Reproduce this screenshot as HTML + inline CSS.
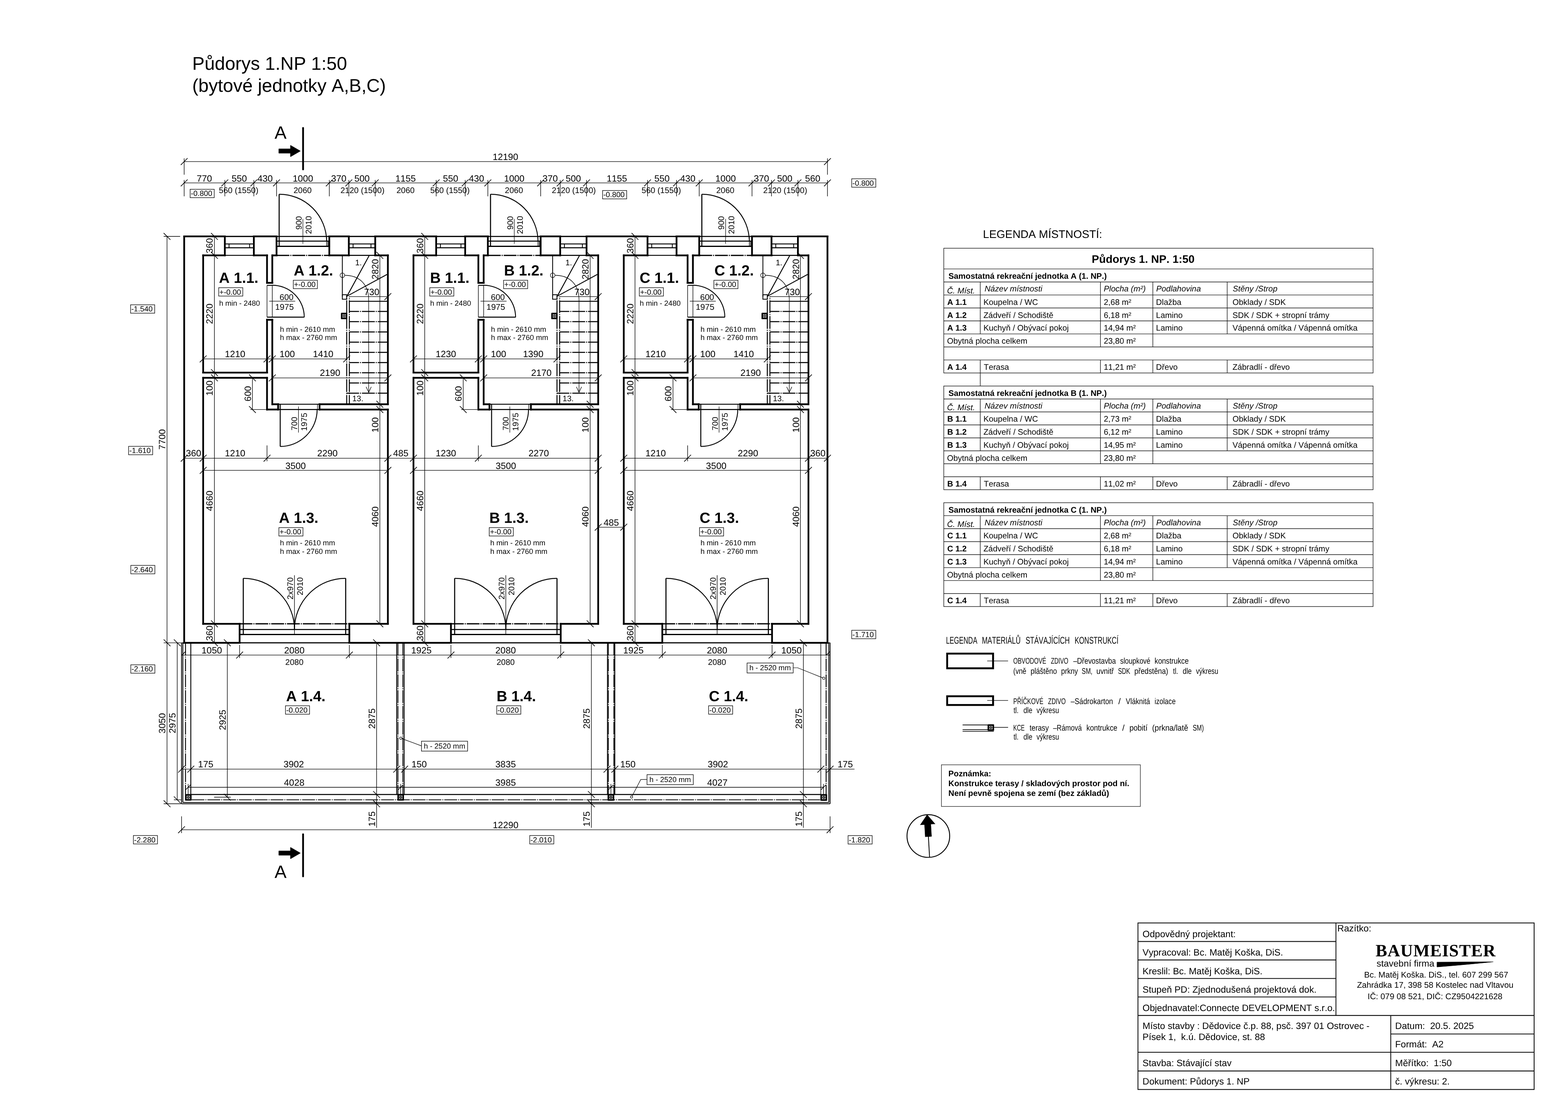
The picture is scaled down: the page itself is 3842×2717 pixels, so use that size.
<!DOCTYPE html>
<html lang="cs"><head><meta charset="utf-8"><title>Půdorys 1.NP 1:50</title>
<style>
html,body{margin:0;padding:0;background:#fff}
body{width:3842px;height:2717px}
svg{display:block;will-change:transform;font-family:"Liberation Sans",sans-serif;fill:#000;stroke:none;font-kerning:none;text-rendering:geometricPrecision;font-variant-ligatures:none}
svg line,svg polyline,svg polygon,svg path,svg rect,svg circle{stroke:#000}
.b{font-weight:bold}
.i{font-style:italic}
.ser{font-family:"Liberation Serif",serif}
.cad{font-family:"Liberation Sans",sans-serif}
</style></head>
<body>
<svg width="3842" height="2717" viewBox="0 0 3842 2717">
<line x1="451.3" y1="579.2" x2="451.3" y2="1574.8" stroke-width="4.3" stroke-linecap="square"/>
<line x1="2027.5" y1="579.2" x2="2027.5" y2="1574.8" stroke-width="4.3" stroke-linecap="square"/>
<line x1="451.3" y1="579.2" x2="550.9" y2="579.2" stroke-width="4.3" stroke-linecap="square"/>
<line x1="622" y1="579.2" x2="677.6" y2="579.2" stroke-width="4.3" stroke-linecap="square"/>
<line x1="806.9" y1="579.2" x2="854.7" y2="579.2" stroke-width="4.3" stroke-linecap="square"/>
<line x1="919.4" y1="579.2" x2="1068.7" y2="579.2" stroke-width="4.3" stroke-linecap="square"/>
<line x1="1139.8" y1="579.2" x2="1195.4" y2="579.2" stroke-width="4.3" stroke-linecap="square"/>
<line x1="1324.7" y1="579.2" x2="1372.6" y2="579.2" stroke-width="4.3" stroke-linecap="square"/>
<line x1="1437.2" y1="579.2" x2="1586.6" y2="579.2" stroke-width="4.3" stroke-linecap="square"/>
<line x1="1657.7" y1="579.2" x2="1713.3" y2="579.2" stroke-width="4.3" stroke-linecap="square"/>
<line x1="1842.6" y1="579.2" x2="1890.4" y2="579.2" stroke-width="4.3" stroke-linecap="square"/>
<line x1="1955.1" y1="579.2" x2="2027.5" y2="579.2" stroke-width="4.3" stroke-linecap="square"/>
<line x1="451.3" y1="1574.8" x2="587.1" y2="1574.8" stroke-width="4.3" stroke-linecap="square"/>
<line x1="856" y1="1574.8" x2="1104.9" y2="1574.8" stroke-width="4.3" stroke-linecap="square"/>
<line x1="1373.9" y1="1574.8" x2="1622.8" y2="1574.8" stroke-width="4.3" stroke-linecap="square"/>
<line x1="1891.7" y1="1574.8" x2="2027.5" y2="1574.8" stroke-width="4.3" stroke-linecap="square"/>
<line x1="550.9" y1="579.2" x2="550.9" y2="625.7" stroke-width="4.3" stroke-linecap="square"/>
<line x1="622" y1="579.2" x2="622" y2="625.7" stroke-width="4.3" stroke-linecap="square"/>
<line x1="677.6" y1="579.2" x2="677.6" y2="625.7" stroke-width="4.3" stroke-linecap="square"/>
<line x1="806.9" y1="579.2" x2="806.9" y2="625.7" stroke-width="4.3" stroke-linecap="square"/>
<line x1="854.7" y1="579.2" x2="854.7" y2="625.7" stroke-width="4.3" stroke-linecap="square"/>
<line x1="919.4" y1="579.2" x2="919.4" y2="625.7" stroke-width="4.3" stroke-linecap="square"/>
<line x1="497.8" y1="625.7" x2="550.9" y2="625.7" stroke-width="4.3" stroke-linecap="square"/>
<line x1="622" y1="625.7" x2="654.3" y2="625.7" stroke-width="4.3" stroke-linecap="square"/>
<line x1="667.2" y1="625.7" x2="677.6" y2="625.7" stroke-width="4.3" stroke-linecap="square"/>
<line x1="806.9" y1="625.7" x2="854.7" y2="625.7" stroke-width="4.3" stroke-linecap="square"/>
<line x1="919.4" y1="625.7" x2="950.4" y2="625.7" stroke-width="4.3" stroke-linecap="square"/>
<line x1="497.8" y1="625.7" x2="497.8" y2="912.8" stroke-width="4.3" stroke-linecap="square"/>
<line x1="497.8" y1="912.8" x2="654.3" y2="912.8" stroke-width="4.3" stroke-linecap="square"/>
<line x1="654.3" y1="625.7" x2="654.3" y2="693" stroke-width="4.3" stroke-linecap="square"/>
<line x1="654.3" y1="783.5" x2="654.3" y2="912.8" stroke-width="4.3" stroke-linecap="square"/>
<line x1="654.3" y1="693" x2="667.2" y2="693" stroke-width="4.3" stroke-linecap="square"/>
<line x1="654.3" y1="783.5" x2="667.2" y2="783.5" stroke-width="4.3" stroke-linecap="square"/>
<line x1="667.2" y1="625.7" x2="667.2" y2="693" stroke-width="4.3" stroke-linecap="square"/>
<line x1="667.2" y1="783.5" x2="667.2" y2="990.4" stroke-width="4.3" stroke-linecap="square"/>
<line x1="667.2" y1="990.4" x2="681.5" y2="990.4" stroke-width="4.3" stroke-linecap="square"/>
<line x1="783" y1="990.4" x2="950.4" y2="990.4" stroke-width="4.3" stroke-linecap="square"/>
<line x1="950.4" y1="625.7" x2="950.4" y2="990.4" stroke-width="4.3" stroke-linecap="square"/>
<line x1="681.5" y1="990.4" x2="681.5" y2="1003.3" stroke-width="4.3" stroke-linecap="square"/>
<line x1="783" y1="990.4" x2="783" y2="1003.3" stroke-width="4.3" stroke-linecap="square"/>
<line x1="497.8" y1="925.7" x2="654.3" y2="925.7" stroke-width="4.3" stroke-linecap="square"/>
<line x1="654.3" y1="925.7" x2="654.3" y2="1003.3" stroke-width="4.3" stroke-linecap="square"/>
<line x1="654.3" y1="1003.3" x2="681.5" y2="1003.3" stroke-width="4.3" stroke-linecap="square"/>
<line x1="783" y1="1003.3" x2="950.4" y2="1003.3" stroke-width="4.3" stroke-linecap="square"/>
<line x1="950.4" y1="1003.3" x2="950.4" y2="1528.3" stroke-width="4.3" stroke-linecap="square"/>
<line x1="497.8" y1="925.7" x2="497.8" y2="1528.3" stroke-width="4.3" stroke-linecap="square"/>
<line x1="497.8" y1="1528.3" x2="587.1" y2="1528.3" stroke-width="4.3" stroke-linecap="square"/>
<line x1="856" y1="1528.3" x2="950.4" y2="1528.3" stroke-width="4.3" stroke-linecap="square"/>
<line x1="587.1" y1="1528.3" x2="587.1" y2="1574.8" stroke-width="4.3" stroke-linecap="square"/>
<line x1="856" y1="1528.3" x2="856" y2="1574.8" stroke-width="4.3" stroke-linecap="square"/>
<line x1="550.9" y1="579.2" x2="622" y2="579.2" stroke-width="3"/>
<line x1="550.9" y1="625.7" x2="622" y2="625.7" stroke-width="2.2"/>
<line x1="550.9" y1="597.6" x2="622" y2="597.6" stroke-width="2.4"/>
<line x1="550.9" y1="607" x2="622" y2="607" stroke-width="2.4"/>
<line x1="561.2" y1="597.6" x2="561.2" y2="607" stroke-width="2"/>
<line x1="611.6" y1="597.6" x2="611.6" y2="607" stroke-width="2"/>
<line x1="854.7" y1="579.2" x2="919.4" y2="579.2" stroke-width="3"/>
<line x1="854.7" y1="625.7" x2="919.4" y2="625.7" stroke-width="2.2"/>
<line x1="854.7" y1="597.6" x2="919.4" y2="597.6" stroke-width="2.4"/>
<line x1="854.7" y1="607" x2="919.4" y2="607" stroke-width="2.4"/>
<line x1="865.1" y1="597.6" x2="865.1" y2="607" stroke-width="2"/>
<line x1="909" y1="597.6" x2="909" y2="607" stroke-width="2"/>
<line x1="677.6" y1="579.2" x2="806.9" y2="579.2" stroke-width="2.6"/>
<line x1="677.6" y1="590.8" x2="806.9" y2="590.8" stroke-width="2.4"/>
<line x1="677.6" y1="603.5" x2="806.9" y2="603.5" stroke-width="2.8"/>
<line x1="677.6" y1="625.7" x2="806.9" y2="625.7" stroke-width="3" stroke-dasharray="31.5 2.4 2.4 2.4"/>
<line x1="684" y1="475.8" x2="684" y2="603.5" stroke-width="2.6"/>
<line x1="800.4" y1="579.2" x2="800.4" y2="603.5" stroke-width="1.6"/>
<line x1="803.6" y1="590.8" x2="803.6" y2="603.5" stroke-width="1.6"/>
<path d="M684 475.8A116.4 116.4 0 0 1 800.4 590.8" stroke-width="2.2" fill="none"/>
<line x1="742.2" y1="536.5" x2="742.2" y2="597.3" stroke-width="1.2"/>
<text x="738.6" y="546" font-size="20" text-anchor="middle" transform="rotate(-90 738.6 546)">900</text>
<text x="762.8" y="551" font-size="20" text-anchor="middle" transform="rotate(-90 762.8 551)">2010</text>
<line x1="587.1" y1="1574.8" x2="856" y2="1574.8" stroke-width="2.8"/>
<line x1="587.1" y1="1528.3" x2="856" y2="1528.3" stroke-width="3" stroke-dasharray="31.5 2.4 2.4 2.4"/>
<line x1="587.1" y1="1542.2" x2="856" y2="1542.2" stroke-width="2.4"/>
<line x1="587.1" y1="1554.5" x2="856" y2="1554.5" stroke-width="2.8"/>
<line x1="596.1" y1="1416.8" x2="596.1" y2="1554.5" stroke-width="2.6"/>
<line x1="847" y1="1416.8" x2="847" y2="1554.5" stroke-width="2.6"/>
<path d="M596.1 1416.8A125.4 125.4 0 0 1 721.5 1542.2" stroke-width="2.2" fill="none"/>
<path d="M847 1416.8A125.4 125.4 0 0 0 721.5 1542.2" stroke-width="2.2" fill="none"/>
<line x1="721.5" y1="1409.3" x2="721.5" y2="1554.5" stroke-width="1.35"/>
<text x="718.1" y="1441.6" font-size="20" text-anchor="middle" transform="rotate(-90 718.1 1441.6)">2x970</text>
<text x="742.1" y="1436.3" font-size="20" text-anchor="middle" transform="rotate(-90 742.1 1436.3)">2010</text>
<line x1="654.3" y1="699.1" x2="667.2" y2="699.1" stroke-width="2.2"/>
<line x1="654.3" y1="699.1" x2="654.3" y2="777" stroke-width="1.35"/>
<line x1="667.2" y1="699.1" x2="667.2" y2="777" stroke-width="1.35"/>
<line x1="654.3" y1="777" x2="745.7" y2="777" stroke-width="2.6"/>
<path d="M745.5 777A78.2 78.2 0 0 0 667.2 698.8" stroke-width="2.2" fill="none"/>
<line x1="659.6" y1="737.9" x2="723.4" y2="737.9" stroke-width="1.2"/>
<text x="702.1" y="734.6" font-size="20.5" text-anchor="middle">600</text>
<text x="697" y="758.6" font-size="20.5" text-anchor="middle">1975</text>
<line x1="681.5" y1="990.4" x2="783" y2="990.4" stroke-width="2.4"/>
<line x1="681.5" y1="1003.3" x2="783" y2="1003.3" stroke-width="2.6"/>
<line x1="686.6" y1="990.4" x2="686.6" y2="1093.8" stroke-width="2.4"/>
<line x1="777.8" y1="990.4" x2="777.8" y2="1003.3" stroke-width="1.35"/>
<path d="M686.6 1093.8A90.5 90.5 0 0 0 777.1 1003.3" stroke-width="2.2" fill="none"/>
<line x1="731.4" y1="996" x2="731.4" y2="1059.8" stroke-width="1.2"/>
<text x="728.2" y="1037.8" font-size="20" text-anchor="middle" transform="rotate(-90 728.2 1037.8)">700</text>
<text x="752.2" y="1033.6" font-size="20" text-anchor="middle" transform="rotate(-90 752.2 1033.6)">1975</text>
<line x1="849.5" y1="725.6" x2="849.5" y2="990.4" stroke-width="2.4" stroke-dasharray="31.5 2.4 2.4 2.4" stroke-dashoffset="28.8"/>
<line x1="856" y1="726.6" x2="856" y2="990.4" stroke-width="2.4" stroke-dasharray="31.5 2.4 2.4 2.4" stroke-dashoffset="29.8"/>
<line x1="838.8" y1="625.7" x2="838.8" y2="726.6" stroke-width="2"/>
<line x1="838.8" y1="625.7" x2="919.4" y2="625.7" stroke-width="2"/>
<rect x="838.8" y="722.1" width="10.7" height="11" stroke-width="2" fill="none"/>
<line x1="850.2" y1="725.6" x2="904.5" y2="626.3" stroke-width="2.2"/>
<line x1="850.2" y1="725.6" x2="948.5" y2="672.3" stroke-width="2.2"/>
<line x1="856" y1="726.6" x2="950.4" y2="726.6" stroke-width="1.35"/>
<line x1="856" y1="738.1" x2="950.4" y2="738.1" stroke-width="2.4"/>
<line x1="856" y1="763.1" x2="950.4" y2="763.1" stroke-width="2.5" stroke-dasharray="31.5 2.4 2.4 2.4" stroke-dashoffset="7.8"/>
<line x1="856" y1="788.1" x2="950.4" y2="788.1" stroke-width="2.5" stroke-dasharray="31.5 2.4 2.4 2.4" stroke-dashoffset="7.8"/>
<line x1="856" y1="813.2" x2="950.4" y2="813.2" stroke-width="2.5" stroke-dasharray="31.5 2.4 2.4 2.4" stroke-dashoffset="7.8"/>
<line x1="856" y1="838.2" x2="950.4" y2="838.2" stroke-width="2.5" stroke-dasharray="31.5 2.4 2.4 2.4" stroke-dashoffset="7.8"/>
<line x1="856" y1="863.2" x2="950.4" y2="863.2" stroke-width="2.5" stroke-dasharray="31.5 2.4 2.4 2.4" stroke-dashoffset="7.8"/>
<line x1="856" y1="888.2" x2="950.4" y2="888.2" stroke-width="2.5" stroke-dasharray="31.5 2.4 2.4 2.4" stroke-dashoffset="7.8"/>
<line x1="856" y1="913.2" x2="950.4" y2="913.2" stroke-width="2.5" stroke-dasharray="31.5 2.4 2.4 2.4" stroke-dashoffset="7.8"/>
<line x1="856" y1="938.3" x2="950.4" y2="938.3" stroke-width="2.5" stroke-dasharray="31.5 2.4 2.4 2.4" stroke-dashoffset="7.8"/>
<line x1="849.5" y1="963.3" x2="950.4" y2="963.3" stroke-width="2.5" stroke-dasharray="31.5 2.4 2.4 2.4" stroke-dashoffset="1.3"/>
<circle cx="838.9" cy="674.5" r="5.6" fill="none" stroke-width="1.2"/>
<path d="M844.5 674.5C878.9 674.5 903.4 695 903.4 735L903.4 961" stroke-width="1.3" fill="none"/>
<path d="M897.1 947.8L903.4 961.4L909.7 947.8" stroke-width="1.3" fill="none"/>
<text x="878.3" y="650" font-size="19.5" text-anchor="middle">1.</text>
<text x="876.8" y="983" font-size="19.5" text-anchor="middle">13.</text>
<text x="910.7" y="723" font-size="22.5" text-anchor="middle">730</text>
<rect x="835.4" y="766.3" width="15.6" height="15.6" rx="1.5" fill="#000" style="stroke:none"/>
<rect x="839.7" y="770.6" width="7" height="7" fill="none" style="stroke:#fff" stroke-width="0.9"/>
<path d="M839.7 770.6L846.7 777.6M846.7 770.6L839.7 777.6" style="stroke:#fff" stroke-width="0.9" fill="none"/>
<line x1="525.4" y1="579.2" x2="525.4" y2="1574.8" stroke-width="1.35"/>
<line x1="517.1" y1="570.9" x2="533.7" y2="587.5" stroke-width="1.6"/>
<line x1="517.1" y1="617.4" x2="533.7" y2="634" stroke-width="1.6"/>
<line x1="517.1" y1="904.5" x2="533.7" y2="921.1" stroke-width="1.6"/>
<line x1="517.1" y1="917.4" x2="533.7" y2="934" stroke-width="1.6"/>
<line x1="517.1" y1="1520" x2="533.7" y2="1536.6" stroke-width="1.6"/>
<line x1="517.1" y1="1566.5" x2="533.7" y2="1583.1" stroke-width="1.6"/>
<text x="521.4" y="601.9" font-size="22.5" text-anchor="middle" transform="rotate(-90 521.4 601.9)">360</text>
<text x="521.4" y="768.8" font-size="22.5" text-anchor="middle" transform="rotate(-90 521.4 768.8)">2220</text>
<text x="521.4" y="951" font-size="22.5" text-anchor="middle" transform="rotate(-90 521.4 951)">100</text>
<text x="521.4" y="1227" font-size="22.5" text-anchor="middle" transform="rotate(-90 521.4 1227)">4660</text>
<text x="521.4" y="1551.2" font-size="22.5" text-anchor="middle" transform="rotate(-90 521.4 1551.2)">360</text>
<line x1="930.7" y1="625.7" x2="930.7" y2="1528.3" stroke-width="1.35"/>
<line x1="922.4" y1="617.4" x2="939" y2="634" stroke-width="1.6"/>
<line x1="922.4" y1="982.1" x2="939" y2="998.7" stroke-width="1.6"/>
<line x1="922.4" y1="995" x2="939" y2="1011.6" stroke-width="1.6"/>
<line x1="922.4" y1="1520" x2="939" y2="1536.6" stroke-width="1.6"/>
<text x="927.1" y="659.4" font-size="22.5" text-anchor="middle" transform="rotate(-90 927.1 659.4)">2820</text>
<text x="927.1" y="1041" font-size="22.5" text-anchor="middle" transform="rotate(-90 927.1 1041)">100</text>
<text x="927.1" y="1265.7" font-size="22.5" text-anchor="middle" transform="rotate(-90 927.1 1265.7)">4060</text>
<line x1="618.5" y1="925.7" x2="618.5" y2="1003.3" stroke-width="1.35"/>
<line x1="610.2" y1="917.4" x2="626.8" y2="934" stroke-width="1.6"/>
<line x1="610.2" y1="995" x2="626.8" y2="1011.6" stroke-width="1.6"/>
<line x1="613.3" y1="1003.3" x2="651.7" y2="1003.3" stroke-width="1.35"/>
<text x="614.9" y="964.6" font-size="22.5" text-anchor="middle" transform="rotate(-90 614.9 964.6)">600</text>
<line x1="942.1" y1="734.9" x2="958.7" y2="718.3" stroke-width="1.6"/>
<line x1="497.8" y1="879.3" x2="849.5" y2="879.3" stroke-width="1.35"/>
<line x1="489.5" y1="887.6" x2="506.1" y2="871" stroke-width="1.6"/>
<line x1="646" y1="887.6" x2="662.6" y2="871" stroke-width="1.6"/>
<line x1="658.9" y1="887.6" x2="675.5" y2="871" stroke-width="1.6"/>
<line x1="841.2" y1="887.6" x2="857.8" y2="871" stroke-width="1.6"/>
<text x="576.1" y="874.8" font-size="22.5" text-anchor="middle">1210</text>
<text x="703.7" y="874.8" font-size="22.5" text-anchor="middle">100</text>
<text x="791.7" y="874.8" font-size="22.5" text-anchor="middle">1410</text>
<line x1="667.2" y1="925.9" x2="950.4" y2="925.9" stroke-width="1.35"/>
<line x1="658.9" y1="934.2" x2="675.5" y2="917.6" stroke-width="1.6"/>
<line x1="942.1" y1="934.2" x2="958.7" y2="917.6" stroke-width="1.6"/>
<text x="808.7" y="921.4" font-size="22.5" text-anchor="middle">2190</text>
<line x1="497.8" y1="1152.4" x2="950.4" y2="1152.4" stroke-width="1.35"/>
<line x1="489.5" y1="1160.7" x2="506.1" y2="1144.1" stroke-width="1.6"/>
<line x1="942.1" y1="1160.7" x2="958.7" y2="1144.1" stroke-width="1.6"/>
<text x="724.3" y="1148.5" font-size="22.5" text-anchor="middle">3500</text>
<line x1="654.3" y1="1091.2" x2="654.3" y2="1130" stroke-width="1.35"/>
<line x1="489.5" y1="1130.9" x2="506.1" y2="1114.3" stroke-width="1.6"/>
<line x1="646" y1="1130.9" x2="662.6" y2="1114.3" stroke-width="1.6"/>
<line x1="942.1" y1="1130.9" x2="958.7" y2="1114.3" stroke-width="1.6"/>
<text x="576.1" y="1118.2" font-size="22.5" text-anchor="middle">1210</text>
<text x="802.2" y="1118.2" font-size="22.5" text-anchor="middle">2290</text>
<text x="536.6" y="692.9" font-size="36.2" class="b">A 1.1.</text>
<rect x="535.9" y="704.8" width="59" height="20.6" stroke-width="1.3" fill="none"/>
<text x="537.6" y="721.5" font-size="18.5">+-0.00</text>
<text x="537" y="749" font-size="18">h min - 2480</text>
<text x="719.8" y="675.1" font-size="36.2" class="b">A 1.2.</text>
<rect x="718.6" y="686.6" width="59" height="20.6" stroke-width="1.3" fill="none"/>
<text x="720.3" y="703.3" font-size="18.5">+-0.00</text>
<text x="686" y="812.8" font-size="18">h min - 2610 mm</text>
<text x="686" y="833.1" font-size="18">h max - 2760 mm</text>
<text x="683.6" y="1281.4" font-size="36.2" class="b">A 1.3.</text>
<rect x="683.4" y="1292.6" width="59" height="20.6" stroke-width="1.3" fill="none"/>
<text x="685.1" y="1309.3" font-size="18.5">+-0.00</text>
<text x="686" y="1335.8" font-size="18">h min - 2610 mm</text>
<text x="686" y="1356.8" font-size="18">h max - 2760 mm</text>
<line x1="1068.7" y1="579.2" x2="1068.7" y2="625.7" stroke-width="4.3" stroke-linecap="square"/>
<line x1="1139.8" y1="579.2" x2="1139.8" y2="625.7" stroke-width="4.3" stroke-linecap="square"/>
<line x1="1195.4" y1="579.2" x2="1195.4" y2="625.7" stroke-width="4.3" stroke-linecap="square"/>
<line x1="1324.7" y1="579.2" x2="1324.7" y2="625.7" stroke-width="4.3" stroke-linecap="square"/>
<line x1="1372.6" y1="579.2" x2="1372.6" y2="625.7" stroke-width="4.3" stroke-linecap="square"/>
<line x1="1437.2" y1="579.2" x2="1437.2" y2="625.7" stroke-width="4.3" stroke-linecap="square"/>
<line x1="1013.1" y1="625.7" x2="1068.7" y2="625.7" stroke-width="4.3" stroke-linecap="square"/>
<line x1="1139.8" y1="625.7" x2="1172.1" y2="625.7" stroke-width="4.3" stroke-linecap="square"/>
<line x1="1185.1" y1="625.7" x2="1195.4" y2="625.7" stroke-width="4.3" stroke-linecap="square"/>
<line x1="1324.7" y1="625.7" x2="1372.6" y2="625.7" stroke-width="4.3" stroke-linecap="square"/>
<line x1="1437.2" y1="625.7" x2="1465.7" y2="625.7" stroke-width="4.3" stroke-linecap="square"/>
<line x1="1013.1" y1="625.7" x2="1013.1" y2="912.8" stroke-width="4.3" stroke-linecap="square"/>
<line x1="1013.1" y1="912.8" x2="1172.1" y2="912.8" stroke-width="4.3" stroke-linecap="square"/>
<line x1="1172.1" y1="625.7" x2="1172.1" y2="693" stroke-width="4.3" stroke-linecap="square"/>
<line x1="1172.1" y1="783.5" x2="1172.1" y2="912.8" stroke-width="4.3" stroke-linecap="square"/>
<line x1="1172.1" y1="693" x2="1185.1" y2="693" stroke-width="4.3" stroke-linecap="square"/>
<line x1="1172.1" y1="783.5" x2="1185.1" y2="783.5" stroke-width="4.3" stroke-linecap="square"/>
<line x1="1185.1" y1="625.7" x2="1185.1" y2="693" stroke-width="4.3" stroke-linecap="square"/>
<line x1="1185.1" y1="783.5" x2="1185.1" y2="990.4" stroke-width="4.3" stroke-linecap="square"/>
<line x1="1185.1" y1="990.4" x2="1199.3" y2="990.4" stroke-width="4.3" stroke-linecap="square"/>
<line x1="1300.8" y1="990.4" x2="1465.7" y2="990.4" stroke-width="4.3" stroke-linecap="square"/>
<line x1="1465.7" y1="625.7" x2="1465.7" y2="990.4" stroke-width="4.3" stroke-linecap="square"/>
<line x1="1199.3" y1="990.4" x2="1199.3" y2="1003.3" stroke-width="4.3" stroke-linecap="square"/>
<line x1="1300.8" y1="990.4" x2="1300.8" y2="1003.3" stroke-width="4.3" stroke-linecap="square"/>
<line x1="1013.1" y1="925.7" x2="1172.1" y2="925.7" stroke-width="4.3" stroke-linecap="square"/>
<line x1="1172.1" y1="925.7" x2="1172.1" y2="1003.3" stroke-width="4.3" stroke-linecap="square"/>
<line x1="1172.1" y1="1003.3" x2="1199.3" y2="1003.3" stroke-width="4.3" stroke-linecap="square"/>
<line x1="1300.8" y1="1003.3" x2="1465.7" y2="1003.3" stroke-width="4.3" stroke-linecap="square"/>
<line x1="1465.7" y1="1003.3" x2="1465.7" y2="1528.3" stroke-width="4.3" stroke-linecap="square"/>
<line x1="1013.1" y1="925.7" x2="1013.1" y2="1528.3" stroke-width="4.3" stroke-linecap="square"/>
<line x1="1013.1" y1="1528.3" x2="1104.9" y2="1528.3" stroke-width="4.3" stroke-linecap="square"/>
<line x1="1373.9" y1="1528.3" x2="1465.7" y2="1528.3" stroke-width="4.3" stroke-linecap="square"/>
<line x1="1104.9" y1="1528.3" x2="1104.9" y2="1574.8" stroke-width="4.3" stroke-linecap="square"/>
<line x1="1373.9" y1="1528.3" x2="1373.9" y2="1574.8" stroke-width="4.3" stroke-linecap="square"/>
<line x1="1068.7" y1="579.2" x2="1139.8" y2="579.2" stroke-width="3"/>
<line x1="1068.7" y1="625.7" x2="1139.8" y2="625.7" stroke-width="2.2"/>
<line x1="1068.7" y1="597.6" x2="1139.8" y2="597.6" stroke-width="2.4"/>
<line x1="1068.7" y1="607" x2="1139.8" y2="607" stroke-width="2.4"/>
<line x1="1079.1" y1="597.6" x2="1079.1" y2="607" stroke-width="2"/>
<line x1="1129.5" y1="597.6" x2="1129.5" y2="607" stroke-width="2"/>
<line x1="1372.6" y1="579.2" x2="1437.2" y2="579.2" stroke-width="3"/>
<line x1="1372.6" y1="625.7" x2="1437.2" y2="625.7" stroke-width="2.2"/>
<line x1="1372.6" y1="597.6" x2="1437.2" y2="597.6" stroke-width="2.4"/>
<line x1="1372.6" y1="607" x2="1437.2" y2="607" stroke-width="2.4"/>
<line x1="1382.9" y1="597.6" x2="1382.9" y2="607" stroke-width="2"/>
<line x1="1426.9" y1="597.6" x2="1426.9" y2="607" stroke-width="2"/>
<line x1="1195.4" y1="579.2" x2="1324.7" y2="579.2" stroke-width="2.6"/>
<line x1="1195.4" y1="590.8" x2="1324.7" y2="590.8" stroke-width="2.4"/>
<line x1="1195.4" y1="603.5" x2="1324.7" y2="603.5" stroke-width="2.8"/>
<line x1="1195.4" y1="625.7" x2="1324.7" y2="625.7" stroke-width="3" stroke-dasharray="31.5 2.4 2.4 2.4"/>
<line x1="1201.9" y1="475.8" x2="1201.9" y2="603.5" stroke-width="2.6"/>
<line x1="1318.3" y1="579.2" x2="1318.3" y2="603.5" stroke-width="1.6"/>
<line x1="1321.5" y1="590.8" x2="1321.5" y2="603.5" stroke-width="1.6"/>
<path d="M1201.9 475.8A116.4 116.4 0 0 1 1318.3 590.8" stroke-width="2.2" fill="none"/>
<line x1="1260.1" y1="536.5" x2="1260.1" y2="597.3" stroke-width="1.2"/>
<text x="1256.5" y="546" font-size="20" text-anchor="middle" transform="rotate(-90 1256.5 546)">900</text>
<text x="1280.7" y="551" font-size="20" text-anchor="middle" transform="rotate(-90 1280.7 551)">2010</text>
<line x1="1104.9" y1="1574.8" x2="1373.9" y2="1574.8" stroke-width="2.8"/>
<line x1="1104.9" y1="1528.3" x2="1373.9" y2="1528.3" stroke-width="3" stroke-dasharray="31.5 2.4 2.4 2.4"/>
<line x1="1104.9" y1="1542.2" x2="1373.9" y2="1542.2" stroke-width="2.4"/>
<line x1="1104.9" y1="1554.5" x2="1373.9" y2="1554.5" stroke-width="2.8"/>
<line x1="1114" y1="1416.8" x2="1114" y2="1554.5" stroke-width="2.6"/>
<line x1="1364.8" y1="1416.8" x2="1364.8" y2="1554.5" stroke-width="2.6"/>
<path d="M1114 1416.8A125.4 125.4 0 0 1 1239.4 1542.2" stroke-width="2.2" fill="none"/>
<path d="M1364.8 1416.8A125.4 125.4 0 0 0 1239.4 1542.2" stroke-width="2.2" fill="none"/>
<line x1="1239.4" y1="1409.3" x2="1239.4" y2="1554.5" stroke-width="1.35"/>
<text x="1236" y="1441.6" font-size="20" text-anchor="middle" transform="rotate(-90 1236 1441.6)">2x970</text>
<text x="1260" y="1436.3" font-size="20" text-anchor="middle" transform="rotate(-90 1260 1436.3)">2010</text>
<line x1="1172.1" y1="699.1" x2="1185.1" y2="699.1" stroke-width="2.2"/>
<line x1="1172.1" y1="699.1" x2="1172.1" y2="777" stroke-width="1.35"/>
<line x1="1185.1" y1="699.1" x2="1185.1" y2="777" stroke-width="1.35"/>
<line x1="1172.1" y1="777" x2="1263.6" y2="777" stroke-width="2.6"/>
<path d="M1263.3 777A78.2 78.2 0 0 0 1185.1 698.8" stroke-width="2.2" fill="none"/>
<line x1="1177.4" y1="737.9" x2="1241.2" y2="737.9" stroke-width="1.2"/>
<text x="1219.9" y="734.6" font-size="20.5" text-anchor="middle">600</text>
<text x="1214.8" y="758.6" font-size="20.5" text-anchor="middle">1975</text>
<line x1="1199.3" y1="990.4" x2="1300.8" y2="990.4" stroke-width="2.4"/>
<line x1="1199.3" y1="1003.3" x2="1300.8" y2="1003.3" stroke-width="2.6"/>
<line x1="1204.5" y1="990.4" x2="1204.5" y2="1093.8" stroke-width="2.4"/>
<line x1="1295.6" y1="990.4" x2="1295.6" y2="1003.3" stroke-width="1.35"/>
<path d="M1204.5 1093.8A90.5 90.5 0 0 0 1295 1003.3" stroke-width="2.2" fill="none"/>
<line x1="1249.2" y1="996" x2="1249.2" y2="1059.8" stroke-width="1.2"/>
<text x="1246" y="1037.8" font-size="20" text-anchor="middle" transform="rotate(-90 1246 1037.8)">700</text>
<text x="1270" y="1033.6" font-size="20" text-anchor="middle" transform="rotate(-90 1270 1033.6)">1975</text>
<line x1="1364.8" y1="725.6" x2="1364.8" y2="990.4" stroke-width="2.4" stroke-dasharray="31.5 2.4 2.4 2.4" stroke-dashoffset="28.8"/>
<line x1="1371.3" y1="726.6" x2="1371.3" y2="990.4" stroke-width="2.4" stroke-dasharray="31.5 2.4 2.4 2.4" stroke-dashoffset="29.8"/>
<line x1="1354.1" y1="625.7" x2="1354.1" y2="726.6" stroke-width="2"/>
<line x1="1354.1" y1="625.7" x2="1437.2" y2="625.7" stroke-width="2"/>
<rect x="1354.1" y="722.1" width="10.7" height="11" stroke-width="2" fill="none"/>
<line x1="1365.5" y1="725.6" x2="1419.8" y2="626.3" stroke-width="2.2"/>
<line x1="1365.5" y1="725.6" x2="1463.7" y2="672.3" stroke-width="2.2"/>
<line x1="1371.3" y1="726.6" x2="1465.7" y2="726.6" stroke-width="1.35"/>
<line x1="1371.3" y1="738.1" x2="1465.7" y2="738.1" stroke-width="2.4"/>
<line x1="1371.3" y1="763.1" x2="1465.7" y2="763.1" stroke-width="2.5" stroke-dasharray="31.5 2.4 2.4 2.4" stroke-dashoffset="7.8"/>
<line x1="1371.3" y1="788.1" x2="1465.7" y2="788.1" stroke-width="2.5" stroke-dasharray="31.5 2.4 2.4 2.4" stroke-dashoffset="7.8"/>
<line x1="1371.3" y1="813.2" x2="1465.7" y2="813.2" stroke-width="2.5" stroke-dasharray="31.5 2.4 2.4 2.4" stroke-dashoffset="7.8"/>
<line x1="1371.3" y1="838.2" x2="1465.7" y2="838.2" stroke-width="2.5" stroke-dasharray="31.5 2.4 2.4 2.4" stroke-dashoffset="7.8"/>
<line x1="1371.3" y1="863.2" x2="1465.7" y2="863.2" stroke-width="2.5" stroke-dasharray="31.5 2.4 2.4 2.4" stroke-dashoffset="7.8"/>
<line x1="1371.3" y1="888.2" x2="1465.7" y2="888.2" stroke-width="2.5" stroke-dasharray="31.5 2.4 2.4 2.4" stroke-dashoffset="7.8"/>
<line x1="1371.3" y1="913.2" x2="1465.7" y2="913.2" stroke-width="2.5" stroke-dasharray="31.5 2.4 2.4 2.4" stroke-dashoffset="7.8"/>
<line x1="1371.3" y1="938.3" x2="1465.7" y2="938.3" stroke-width="2.5" stroke-dasharray="31.5 2.4 2.4 2.4" stroke-dashoffset="7.8"/>
<line x1="1364.8" y1="963.3" x2="1465.7" y2="963.3" stroke-width="2.5" stroke-dasharray="31.5 2.4 2.4 2.4" stroke-dashoffset="1.3"/>
<circle cx="1354.2" cy="674.5" r="5.6" fill="none" stroke-width="1.2"/>
<path d="M1359.8 674.5C1394.2 674.5 1418.7 695 1418.7 735L1418.7 961" stroke-width="1.3" fill="none"/>
<path d="M1412.4 947.8L1418.7 961.4L1425 947.8" stroke-width="1.3" fill="none"/>
<text x="1393.6" y="650" font-size="19.5" text-anchor="middle">1.</text>
<text x="1392.1" y="983" font-size="19.5" text-anchor="middle">13.</text>
<text x="1426" y="723" font-size="22.5" text-anchor="middle">730</text>
<rect x="1350.7" y="766.3" width="15.6" height="15.6" rx="1.5" fill="#000" style="stroke:none"/>
<rect x="1355" y="770.6" width="7" height="7" fill="none" style="stroke:#fff" stroke-width="0.9"/>
<path d="M1355 770.6L1362 777.6M1362 770.6L1355 777.6" style="stroke:#fff" stroke-width="0.9" fill="none"/>
<line x1="1040.6" y1="579.2" x2="1040.6" y2="1574.8" stroke-width="1.35"/>
<line x1="1032.3" y1="570.9" x2="1048.9" y2="587.5" stroke-width="1.6"/>
<line x1="1032.3" y1="617.4" x2="1048.9" y2="634" stroke-width="1.6"/>
<line x1="1032.3" y1="904.5" x2="1048.9" y2="921.1" stroke-width="1.6"/>
<line x1="1032.3" y1="917.4" x2="1048.9" y2="934" stroke-width="1.6"/>
<line x1="1032.3" y1="1520" x2="1048.9" y2="1536.6" stroke-width="1.6"/>
<line x1="1032.3" y1="1566.5" x2="1048.9" y2="1583.1" stroke-width="1.6"/>
<text x="1036.6" y="601.9" font-size="22.5" text-anchor="middle" transform="rotate(-90 1036.6 601.9)">360</text>
<text x="1036.6" y="768.8" font-size="22.5" text-anchor="middle" transform="rotate(-90 1036.6 768.8)">2220</text>
<text x="1036.6" y="951" font-size="22.5" text-anchor="middle" transform="rotate(-90 1036.6 951)">100</text>
<text x="1036.6" y="1227" font-size="22.5" text-anchor="middle" transform="rotate(-90 1036.6 1227)">4660</text>
<text x="1036.6" y="1551.2" font-size="22.5" text-anchor="middle" transform="rotate(-90 1036.6 1551.2)">360</text>
<line x1="1446" y1="625.7" x2="1446" y2="1528.3" stroke-width="1.35"/>
<line x1="1437.7" y1="617.4" x2="1454.3" y2="634" stroke-width="1.6"/>
<line x1="1437.7" y1="982.1" x2="1454.3" y2="998.7" stroke-width="1.6"/>
<line x1="1437.7" y1="995" x2="1454.3" y2="1011.6" stroke-width="1.6"/>
<line x1="1437.7" y1="1520" x2="1454.3" y2="1536.6" stroke-width="1.6"/>
<text x="1442.4" y="659.4" font-size="22.5" text-anchor="middle" transform="rotate(-90 1442.4 659.4)">2820</text>
<text x="1442.4" y="1041" font-size="22.5" text-anchor="middle" transform="rotate(-90 1442.4 1041)">100</text>
<text x="1442.4" y="1265.7" font-size="22.5" text-anchor="middle" transform="rotate(-90 1442.4 1265.7)">4060</text>
<line x1="1135" y1="925.7" x2="1135" y2="1003.3" stroke-width="1.35"/>
<line x1="1126.7" y1="917.4" x2="1143.3" y2="934" stroke-width="1.6"/>
<line x1="1126.7" y1="995" x2="1143.3" y2="1011.6" stroke-width="1.6"/>
<line x1="1129.9" y1="1003.3" x2="1169.6" y2="1003.3" stroke-width="1.35"/>
<text x="1131.4" y="964.6" font-size="22.5" text-anchor="middle" transform="rotate(-90 1131.4 964.6)">600</text>
<line x1="1457.4" y1="734.9" x2="1474" y2="718.3" stroke-width="1.6"/>
<line x1="1013.1" y1="879.3" x2="1364.8" y2="879.3" stroke-width="1.35"/>
<line x1="1004.8" y1="887.6" x2="1021.4" y2="871" stroke-width="1.6"/>
<line x1="1163.8" y1="887.6" x2="1180.4" y2="871" stroke-width="1.6"/>
<line x1="1176.8" y1="887.6" x2="1193.4" y2="871" stroke-width="1.6"/>
<line x1="1356.5" y1="887.6" x2="1373.1" y2="871" stroke-width="1.6"/>
<text x="1092.6" y="874.8" font-size="22.5" text-anchor="middle">1230</text>
<text x="1221.6" y="874.8" font-size="22.5" text-anchor="middle">100</text>
<text x="1306.6" y="874.8" font-size="22.5" text-anchor="middle">1390</text>
<line x1="1185.1" y1="925.9" x2="1465.7" y2="925.9" stroke-width="1.35"/>
<line x1="1176.8" y1="934.2" x2="1193.4" y2="917.6" stroke-width="1.6"/>
<line x1="1457.4" y1="934.2" x2="1474" y2="917.6" stroke-width="1.6"/>
<text x="1326.6" y="921.4" font-size="22.5" text-anchor="middle">2170</text>
<line x1="1013.1" y1="1152.4" x2="1465.7" y2="1152.4" stroke-width="1.35"/>
<line x1="1004.8" y1="1160.7" x2="1021.4" y2="1144.1" stroke-width="1.6"/>
<line x1="1457.4" y1="1160.7" x2="1474" y2="1144.1" stroke-width="1.6"/>
<text x="1239.6" y="1148.5" font-size="22.5" text-anchor="middle">3500</text>
<line x1="1172.1" y1="1091.2" x2="1172.1" y2="1130" stroke-width="1.35"/>
<line x1="1004.8" y1="1130.9" x2="1021.4" y2="1114.3" stroke-width="1.6"/>
<line x1="1163.8" y1="1130.9" x2="1180.4" y2="1114.3" stroke-width="1.6"/>
<line x1="1457.4" y1="1130.9" x2="1474" y2="1114.3" stroke-width="1.6"/>
<text x="1092.6" y="1118.2" font-size="22.5" text-anchor="middle">1230</text>
<text x="1320.1" y="1118.2" font-size="22.5" text-anchor="middle">2270</text>
<text x="1053.7" y="692.9" font-size="36.2" class="b">B 1.1.</text>
<rect x="1053" y="704.8" width="59" height="20.6" stroke-width="1.3" fill="none"/>
<text x="1054.7" y="721.5" font-size="18.5">+-0.00</text>
<text x="1054.1" y="749" font-size="18">h min - 2480</text>
<text x="1235.1" y="675.1" font-size="36.2" class="b">B 1.2.</text>
<rect x="1233.9" y="686.6" width="59" height="20.6" stroke-width="1.3" fill="none"/>
<text x="1235.6" y="703.3" font-size="18.5">+-0.00</text>
<text x="1203.1" y="812.8" font-size="18">h min - 2610 mm</text>
<text x="1203.1" y="833.1" font-size="18">h max - 2760 mm</text>
<text x="1198.9" y="1281.4" font-size="36.2" class="b">B 1.3.</text>
<rect x="1198.7" y="1292.6" width="59" height="20.6" stroke-width="1.3" fill="none"/>
<text x="1200.4" y="1309.3" font-size="18.5">+-0.00</text>
<text x="1201.3" y="1335.8" font-size="18">h min - 2610 mm</text>
<text x="1201.3" y="1356.8" font-size="18">h max - 2760 mm</text>
<line x1="1586.6" y1="579.2" x2="1586.6" y2="625.7" stroke-width="4.3" stroke-linecap="square"/>
<line x1="1657.7" y1="579.2" x2="1657.7" y2="625.7" stroke-width="4.3" stroke-linecap="square"/>
<line x1="1713.3" y1="579.2" x2="1713.3" y2="625.7" stroke-width="4.3" stroke-linecap="square"/>
<line x1="1842.6" y1="579.2" x2="1842.6" y2="625.7" stroke-width="4.3" stroke-linecap="square"/>
<line x1="1890.4" y1="579.2" x2="1890.4" y2="625.7" stroke-width="4.3" stroke-linecap="square"/>
<line x1="1955.1" y1="579.2" x2="1955.1" y2="625.7" stroke-width="4.3" stroke-linecap="square"/>
<line x1="1528.4" y1="625.7" x2="1586.6" y2="625.7" stroke-width="4.3" stroke-linecap="square"/>
<line x1="1657.7" y1="625.7" x2="1684.8" y2="625.7" stroke-width="4.3" stroke-linecap="square"/>
<line x1="1697.8" y1="625.7" x2="1713.3" y2="625.7" stroke-width="4.3" stroke-linecap="square"/>
<line x1="1842.6" y1="625.7" x2="1890.4" y2="625.7" stroke-width="4.3" stroke-linecap="square"/>
<line x1="1955.1" y1="625.7" x2="1980.9" y2="625.7" stroke-width="4.3" stroke-linecap="square"/>
<line x1="1528.4" y1="625.7" x2="1528.4" y2="912.8" stroke-width="4.3" stroke-linecap="square"/>
<line x1="1528.4" y1="912.8" x2="1684.8" y2="912.8" stroke-width="4.3" stroke-linecap="square"/>
<line x1="1684.8" y1="625.7" x2="1684.8" y2="693" stroke-width="4.3" stroke-linecap="square"/>
<line x1="1684.8" y1="783.5" x2="1684.8" y2="912.8" stroke-width="4.3" stroke-linecap="square"/>
<line x1="1684.8" y1="693" x2="1697.8" y2="693" stroke-width="4.3" stroke-linecap="square"/>
<line x1="1684.8" y1="783.5" x2="1697.8" y2="783.5" stroke-width="4.3" stroke-linecap="square"/>
<line x1="1697.8" y1="625.7" x2="1697.8" y2="693" stroke-width="4.3" stroke-linecap="square"/>
<line x1="1697.8" y1="783.5" x2="1697.8" y2="990.4" stroke-width="4.3" stroke-linecap="square"/>
<line x1="1697.8" y1="990.4" x2="1712" y2="990.4" stroke-width="4.3" stroke-linecap="square"/>
<line x1="1813.5" y1="990.4" x2="1980.9" y2="990.4" stroke-width="4.3" stroke-linecap="square"/>
<line x1="1980.9" y1="625.7" x2="1980.9" y2="990.4" stroke-width="4.3" stroke-linecap="square"/>
<line x1="1712" y1="990.4" x2="1712" y2="1003.3" stroke-width="4.3" stroke-linecap="square"/>
<line x1="1813.5" y1="990.4" x2="1813.5" y2="1003.3" stroke-width="4.3" stroke-linecap="square"/>
<line x1="1528.4" y1="925.7" x2="1684.8" y2="925.7" stroke-width="4.3" stroke-linecap="square"/>
<line x1="1684.8" y1="925.7" x2="1684.8" y2="1003.3" stroke-width="4.3" stroke-linecap="square"/>
<line x1="1684.8" y1="1003.3" x2="1712" y2="1003.3" stroke-width="4.3" stroke-linecap="square"/>
<line x1="1813.5" y1="1003.3" x2="1980.9" y2="1003.3" stroke-width="4.3" stroke-linecap="square"/>
<line x1="1980.9" y1="1003.3" x2="1980.9" y2="1528.3" stroke-width="4.3" stroke-linecap="square"/>
<line x1="1528.4" y1="925.7" x2="1528.4" y2="1528.3" stroke-width="4.3" stroke-linecap="square"/>
<line x1="1528.4" y1="1528.3" x2="1622.8" y2="1528.3" stroke-width="4.3" stroke-linecap="square"/>
<line x1="1891.7" y1="1528.3" x2="1980.9" y2="1528.3" stroke-width="4.3" stroke-linecap="square"/>
<line x1="1622.8" y1="1528.3" x2="1622.8" y2="1574.8" stroke-width="4.3" stroke-linecap="square"/>
<line x1="1891.7" y1="1528.3" x2="1891.7" y2="1574.8" stroke-width="4.3" stroke-linecap="square"/>
<line x1="1586.6" y1="579.2" x2="1657.7" y2="579.2" stroke-width="3"/>
<line x1="1586.6" y1="625.7" x2="1657.7" y2="625.7" stroke-width="2.2"/>
<line x1="1586.6" y1="597.6" x2="1657.7" y2="597.6" stroke-width="2.4"/>
<line x1="1586.6" y1="607" x2="1657.7" y2="607" stroke-width="2.4"/>
<line x1="1596.9" y1="597.6" x2="1596.9" y2="607" stroke-width="2"/>
<line x1="1647.3" y1="597.6" x2="1647.3" y2="607" stroke-width="2"/>
<line x1="1890.4" y1="579.2" x2="1955.1" y2="579.2" stroke-width="3"/>
<line x1="1890.4" y1="625.7" x2="1955.1" y2="625.7" stroke-width="2.2"/>
<line x1="1890.4" y1="597.6" x2="1955.1" y2="597.6" stroke-width="2.4"/>
<line x1="1890.4" y1="607" x2="1955.1" y2="607" stroke-width="2.4"/>
<line x1="1900.8" y1="597.6" x2="1900.8" y2="607" stroke-width="2"/>
<line x1="1944.7" y1="597.6" x2="1944.7" y2="607" stroke-width="2"/>
<line x1="1713.3" y1="579.2" x2="1842.6" y2="579.2" stroke-width="2.6"/>
<line x1="1713.3" y1="590.8" x2="1842.6" y2="590.8" stroke-width="2.4"/>
<line x1="1713.3" y1="603.5" x2="1842.6" y2="603.5" stroke-width="2.8"/>
<line x1="1713.3" y1="625.7" x2="1842.6" y2="625.7" stroke-width="3" stroke-dasharray="31.5 2.4 2.4 2.4"/>
<line x1="1719.7" y1="475.8" x2="1719.7" y2="603.5" stroke-width="2.6"/>
<line x1="1836.1" y1="579.2" x2="1836.1" y2="603.5" stroke-width="1.6"/>
<line x1="1839.3" y1="590.8" x2="1839.3" y2="603.5" stroke-width="1.6"/>
<path d="M1719.7 475.8A116.4 116.4 0 0 1 1836.1 590.8" stroke-width="2.2" fill="none"/>
<line x1="1777.9" y1="536.5" x2="1777.9" y2="597.3" stroke-width="1.2"/>
<text x="1774.3" y="546" font-size="20" text-anchor="middle" transform="rotate(-90 1774.3 546)">900</text>
<text x="1798.5" y="551" font-size="20" text-anchor="middle" transform="rotate(-90 1798.5 551)">2010</text>
<line x1="1622.8" y1="1574.8" x2="1891.7" y2="1574.8" stroke-width="2.8"/>
<line x1="1622.8" y1="1528.3" x2="1891.7" y2="1528.3" stroke-width="3" stroke-dasharray="31.5 2.4 2.4 2.4"/>
<line x1="1622.8" y1="1542.2" x2="1891.7" y2="1542.2" stroke-width="2.4"/>
<line x1="1622.8" y1="1554.5" x2="1891.7" y2="1554.5" stroke-width="2.8"/>
<line x1="1631.8" y1="1416.8" x2="1631.8" y2="1554.5" stroke-width="2.6"/>
<line x1="1882.7" y1="1416.8" x2="1882.7" y2="1554.5" stroke-width="2.6"/>
<path d="M1631.8 1416.8A125.4 125.4 0 0 1 1757.2 1542.2" stroke-width="2.2" fill="none"/>
<path d="M1882.7 1416.8A125.4 125.4 0 0 0 1757.2 1542.2" stroke-width="2.2" fill="none"/>
<line x1="1757.2" y1="1409.3" x2="1757.2" y2="1554.5" stroke-width="1.35"/>
<text x="1753.8" y="1441.6" font-size="20" text-anchor="middle" transform="rotate(-90 1753.8 1441.6)">2x970</text>
<text x="1777.8" y="1436.3" font-size="20" text-anchor="middle" transform="rotate(-90 1777.8 1436.3)">2010</text>
<line x1="1684.8" y1="699.1" x2="1697.8" y2="699.1" stroke-width="2.2"/>
<line x1="1684.8" y1="699.1" x2="1684.8" y2="777" stroke-width="1.35"/>
<line x1="1697.8" y1="699.1" x2="1697.8" y2="777" stroke-width="1.35"/>
<line x1="1684.8" y1="777" x2="1776.2" y2="777" stroke-width="2.6"/>
<path d="M1776 777A78.2 78.2 0 0 0 1697.8 698.8" stroke-width="2.2" fill="none"/>
<line x1="1690.1" y1="737.9" x2="1753.9" y2="737.9" stroke-width="1.2"/>
<text x="1732.6" y="734.6" font-size="20.5" text-anchor="middle">600</text>
<text x="1727.5" y="758.6" font-size="20.5" text-anchor="middle">1975</text>
<line x1="1712" y1="990.4" x2="1813.5" y2="990.4" stroke-width="2.4"/>
<line x1="1712" y1="1003.3" x2="1813.5" y2="1003.3" stroke-width="2.6"/>
<line x1="1717.1" y1="990.4" x2="1717.1" y2="1093.8" stroke-width="2.4"/>
<line x1="1808.3" y1="990.4" x2="1808.3" y2="1003.3" stroke-width="1.35"/>
<path d="M1717.1 1093.8A90.5 90.5 0 0 0 1807.7 1003.3" stroke-width="2.2" fill="none"/>
<line x1="1761.9" y1="996" x2="1761.9" y2="1059.8" stroke-width="1.2"/>
<text x="1758.7" y="1037.8" font-size="20" text-anchor="middle" transform="rotate(-90 1758.7 1037.8)">700</text>
<text x="1782.7" y="1033.6" font-size="20" text-anchor="middle" transform="rotate(-90 1782.7 1033.6)">1975</text>
<line x1="1880.1" y1="725.6" x2="1880.1" y2="990.4" stroke-width="2.4" stroke-dasharray="31.5 2.4 2.4 2.4" stroke-dashoffset="28.8"/>
<line x1="1886.5" y1="726.6" x2="1886.5" y2="990.4" stroke-width="2.4" stroke-dasharray="31.5 2.4 2.4 2.4" stroke-dashoffset="29.8"/>
<line x1="1869.3" y1="625.7" x2="1869.3" y2="726.6" stroke-width="2"/>
<line x1="1869.3" y1="625.7" x2="1955.1" y2="625.7" stroke-width="2"/>
<rect x="1869.3" y="722.1" width="10.7" height="11" stroke-width="2" fill="none"/>
<line x1="1880.7" y1="725.6" x2="1935" y2="626.3" stroke-width="2.2"/>
<line x1="1880.7" y1="725.6" x2="1979" y2="672.3" stroke-width="2.2"/>
<line x1="1886.5" y1="726.6" x2="1980.9" y2="726.6" stroke-width="1.35"/>
<line x1="1886.5" y1="738.1" x2="1980.9" y2="738.1" stroke-width="2.4"/>
<line x1="1886.5" y1="763.1" x2="1980.9" y2="763.1" stroke-width="2.5" stroke-dasharray="31.5 2.4 2.4 2.4" stroke-dashoffset="7.8"/>
<line x1="1886.5" y1="788.1" x2="1980.9" y2="788.1" stroke-width="2.5" stroke-dasharray="31.5 2.4 2.4 2.4" stroke-dashoffset="7.8"/>
<line x1="1886.5" y1="813.2" x2="1980.9" y2="813.2" stroke-width="2.5" stroke-dasharray="31.5 2.4 2.4 2.4" stroke-dashoffset="7.8"/>
<line x1="1886.5" y1="838.2" x2="1980.9" y2="838.2" stroke-width="2.5" stroke-dasharray="31.5 2.4 2.4 2.4" stroke-dashoffset="7.8"/>
<line x1="1886.5" y1="863.2" x2="1980.9" y2="863.2" stroke-width="2.5" stroke-dasharray="31.5 2.4 2.4 2.4" stroke-dashoffset="7.8"/>
<line x1="1886.5" y1="888.2" x2="1980.9" y2="888.2" stroke-width="2.5" stroke-dasharray="31.5 2.4 2.4 2.4" stroke-dashoffset="7.8"/>
<line x1="1886.5" y1="913.2" x2="1980.9" y2="913.2" stroke-width="2.5" stroke-dasharray="31.5 2.4 2.4 2.4" stroke-dashoffset="7.8"/>
<line x1="1886.5" y1="938.3" x2="1980.9" y2="938.3" stroke-width="2.5" stroke-dasharray="31.5 2.4 2.4 2.4" stroke-dashoffset="7.8"/>
<line x1="1880.1" y1="963.3" x2="1980.9" y2="963.3" stroke-width="2.5" stroke-dasharray="31.5 2.4 2.4 2.4" stroke-dashoffset="1.3"/>
<circle cx="1869.4" cy="674.5" r="5.6" fill="none" stroke-width="1.2"/>
<path d="M1875 674.5C1909.4 674.5 1933.9 695 1933.9 735L1933.9 961" stroke-width="1.3" fill="none"/>
<path d="M1927.6 947.8L1933.9 961.4L1940.2 947.8" stroke-width="1.3" fill="none"/>
<text x="1908.8" y="650" font-size="19.5" text-anchor="middle">1.</text>
<text x="1907.3" y="983" font-size="19.5" text-anchor="middle">13.</text>
<text x="1941.2" y="723" font-size="22.5" text-anchor="middle">730</text>
<rect x="1865.9" y="766.3" width="15.6" height="15.6" rx="1.5" fill="#000" style="stroke:none"/>
<rect x="1870.2" y="770.6" width="7" height="7" fill="none" style="stroke:#fff" stroke-width="0.9"/>
<path d="M1870.2 770.6L1877.2 777.6M1877.2 770.6L1870.2 777.6" style="stroke:#fff" stroke-width="0.9" fill="none"/>
<line x1="1555.9" y1="579.2" x2="1555.9" y2="1574.8" stroke-width="1.35"/>
<line x1="1547.6" y1="570.9" x2="1564.2" y2="587.5" stroke-width="1.6"/>
<line x1="1547.6" y1="617.4" x2="1564.2" y2="634" stroke-width="1.6"/>
<line x1="1547.6" y1="904.5" x2="1564.2" y2="921.1" stroke-width="1.6"/>
<line x1="1547.6" y1="917.4" x2="1564.2" y2="934" stroke-width="1.6"/>
<line x1="1547.6" y1="1520" x2="1564.2" y2="1536.6" stroke-width="1.6"/>
<line x1="1547.6" y1="1566.5" x2="1564.2" y2="1583.1" stroke-width="1.6"/>
<text x="1551.9" y="601.9" font-size="22.5" text-anchor="middle" transform="rotate(-90 1551.9 601.9)">360</text>
<text x="1551.9" y="768.8" font-size="22.5" text-anchor="middle" transform="rotate(-90 1551.9 768.8)">2220</text>
<text x="1551.9" y="951" font-size="22.5" text-anchor="middle" transform="rotate(-90 1551.9 951)">100</text>
<text x="1551.9" y="1227" font-size="22.5" text-anchor="middle" transform="rotate(-90 1551.9 1227)">4660</text>
<text x="1551.9" y="1551.2" font-size="22.5" text-anchor="middle" transform="rotate(-90 1551.9 1551.2)">360</text>
<line x1="1961.3" y1="625.7" x2="1961.3" y2="1528.3" stroke-width="1.35"/>
<line x1="1953" y1="617.4" x2="1969.6" y2="634" stroke-width="1.6"/>
<line x1="1953" y1="982.1" x2="1969.6" y2="998.7" stroke-width="1.6"/>
<line x1="1953" y1="995" x2="1969.6" y2="1011.6" stroke-width="1.6"/>
<line x1="1953" y1="1520" x2="1969.6" y2="1536.6" stroke-width="1.6"/>
<text x="1957.7" y="659.4" font-size="22.5" text-anchor="middle" transform="rotate(-90 1957.7 659.4)">2820</text>
<text x="1957.7" y="1041" font-size="22.5" text-anchor="middle" transform="rotate(-90 1957.7 1041)">100</text>
<text x="1957.7" y="1265.7" font-size="22.5" text-anchor="middle" transform="rotate(-90 1957.7 1265.7)">4060</text>
<line x1="1649" y1="925.7" x2="1649" y2="1003.3" stroke-width="1.35"/>
<line x1="1640.7" y1="917.4" x2="1657.3" y2="934" stroke-width="1.6"/>
<line x1="1640.7" y1="995" x2="1657.3" y2="1011.6" stroke-width="1.6"/>
<line x1="1643.8" y1="1003.3" x2="1682.2" y2="1003.3" stroke-width="1.35"/>
<text x="1645.4" y="964.6" font-size="22.5" text-anchor="middle" transform="rotate(-90 1645.4 964.6)">600</text>
<line x1="1972.6" y1="734.9" x2="1989.2" y2="718.3" stroke-width="1.6"/>
<line x1="1528.4" y1="879.3" x2="1880.1" y2="879.3" stroke-width="1.35"/>
<line x1="1520.1" y1="887.6" x2="1536.7" y2="871" stroke-width="1.6"/>
<line x1="1676.5" y1="887.6" x2="1693.1" y2="871" stroke-width="1.6"/>
<line x1="1689.5" y1="887.6" x2="1706.1" y2="871" stroke-width="1.6"/>
<line x1="1871.8" y1="887.6" x2="1888.4" y2="871" stroke-width="1.6"/>
<text x="1606.6" y="874.8" font-size="22.5" text-anchor="middle">1210</text>
<text x="1734.3" y="874.8" font-size="22.5" text-anchor="middle">100</text>
<text x="1822.3" y="874.8" font-size="22.5" text-anchor="middle">1410</text>
<line x1="1697.8" y1="925.9" x2="1980.9" y2="925.9" stroke-width="1.35"/>
<line x1="1689.5" y1="934.2" x2="1706.1" y2="917.6" stroke-width="1.6"/>
<line x1="1972.6" y1="934.2" x2="1989.2" y2="917.6" stroke-width="1.6"/>
<text x="1839.3" y="921.4" font-size="22.5" text-anchor="middle">2190</text>
<line x1="1528.4" y1="1152.4" x2="1980.9" y2="1152.4" stroke-width="1.35"/>
<line x1="1520.1" y1="1160.7" x2="1536.7" y2="1144.1" stroke-width="1.6"/>
<line x1="1972.6" y1="1160.7" x2="1989.2" y2="1144.1" stroke-width="1.6"/>
<text x="1754.9" y="1148.5" font-size="22.5" text-anchor="middle">3500</text>
<line x1="1684.8" y1="1091.2" x2="1684.8" y2="1130" stroke-width="1.35"/>
<line x1="1520.1" y1="1130.9" x2="1536.7" y2="1114.3" stroke-width="1.6"/>
<line x1="1676.5" y1="1130.9" x2="1693.1" y2="1114.3" stroke-width="1.6"/>
<line x1="1972.6" y1="1130.9" x2="1989.2" y2="1114.3" stroke-width="1.6"/>
<text x="1606.6" y="1118.2" font-size="22.5" text-anchor="middle">1210</text>
<text x="1832.8" y="1118.2" font-size="22.5" text-anchor="middle">2290</text>
<text x="1567.2" y="692.9" font-size="36.2" class="b">C 1.1.</text>
<rect x="1566.5" y="704.8" width="59" height="20.6" stroke-width="1.3" fill="none"/>
<text x="1568.2" y="721.5" font-size="18.5">+-0.00</text>
<text x="1567.6" y="749" font-size="18">h min - 2480</text>
<text x="1750.4" y="675.1" font-size="36.2" class="b">C 1.2.</text>
<rect x="1749.2" y="686.6" width="59" height="20.6" stroke-width="1.3" fill="none"/>
<text x="1750.9" y="703.3" font-size="18.5">+-0.00</text>
<text x="1716.6" y="812.8" font-size="18">h min - 2610 mm</text>
<text x="1716.6" y="833.1" font-size="18">h max - 2760 mm</text>
<text x="1714.2" y="1281.4" font-size="36.2" class="b">C 1.3.</text>
<rect x="1714" y="1292.6" width="59" height="20.6" stroke-width="1.3" fill="none"/>
<text x="1715.7" y="1309.3" font-size="18.5">+-0.00</text>
<text x="1716.6" y="1335.8" font-size="18">h min - 2610 mm</text>
<text x="1716.6" y="1356.8" font-size="18">h max - 2760 mm</text>
<line x1="451.3" y1="1122.6" x2="1465.7" y2="1122.6" stroke-width="1.35"/>
<line x1="1528.4" y1="1122.6" x2="2027.5" y2="1122.6" stroke-width="1.35"/>
<line x1="1465.7" y1="1291.6" x2="1528.4" y2="1291.6" stroke-width="1.35"/>
<line x1="1457.4" y1="1299.9" x2="1474" y2="1283.3" stroke-width="1.6"/>
<line x1="1520.1" y1="1299.9" x2="1536.7" y2="1283.3" stroke-width="1.6"/>
<line x1="443" y1="1130.9" x2="459.6" y2="1114.3" stroke-width="1.6"/>
<line x1="2019.2" y1="1130.9" x2="2035.8" y2="1114.3" stroke-width="1.6"/>
<text x="474.3" y="1118.2" font-size="22.5" text-anchor="middle">360</text>
<text x="2004" y="1118.2" font-size="22.5" text-anchor="middle">360</text>
<text x="981.9" y="1118.2" font-size="22.5" text-anchor="middle">485</text>
<text x="1497.7" y="1288.1" font-size="22.5" text-anchor="middle">485</text>
<line x1="444.8" y1="1574.8" x2="444.8" y2="1969.2" stroke-width="2"/>
<line x1="448.1" y1="1574.8" x2="448.1" y2="1965.9" stroke-width="2"/>
<line x1="2033.9" y1="1574.8" x2="2033.9" y2="1969.2" stroke-width="2"/>
<line x1="2030.7" y1="1574.8" x2="2030.7" y2="1965.9" stroke-width="2"/>
<line x1="444.8" y1="1969.2" x2="2033.9" y2="1969.2" stroke-width="2"/>
<line x1="448.1" y1="1965.9" x2="2030.7" y2="1965.9" stroke-width="2"/>
<line x1="454.5" y1="1574.8" x2="454.5" y2="1946.5" stroke-width="2.2" stroke-dasharray="31.5 2.4 2.4 2.4"/>
<line x1="2024.2" y1="1574.8" x2="2024.2" y2="1946.5" stroke-width="2.2" stroke-dasharray="31.5 2.4 2.4 2.4"/>
<line x1="444.8" y1="1574.8" x2="451.3" y2="1574.8" stroke-width="1.7"/>
<line x1="2027.5" y1="1574.8" x2="2033.9" y2="1574.8" stroke-width="1.7"/>
<line x1="469.4" y1="1959.5" x2="2009.4" y2="1959.5" stroke-width="2.2" stroke-dasharray="31.5 2.4 2.4 2.4"/>
<line x1="467.5" y1="1574.8" x2="467.5" y2="1946.5" stroke-width="2.2"/>
<line x1="2011.3" y1="1574.8" x2="2011.3" y2="1946.5" stroke-width="1.4"/>
<line x1="467.5" y1="1946.5" x2="2011.3" y2="1946.5" stroke-width="2.4"/>
<line x1="972" y1="1574.8" x2="972" y2="1946.5" stroke-width="2.2"/>
<line x1="990.2" y1="1574.8" x2="990.2" y2="1946.5" stroke-width="2.2"/>
<line x1="975.1" y1="1574.8" x2="975.1" y2="1946.5" stroke-width="2" stroke-dasharray="31.5 2.4 2.4 2.4"/>
<line x1="987.1" y1="1574.8" x2="987.1" y2="1946.5" stroke-width="2" stroke-dasharray="31.5 2.4 2.4 2.4"/>
<line x1="1488.5" y1="1574.8" x2="1488.5" y2="1946.5" stroke-width="2.2"/>
<line x1="1506.4" y1="1574.8" x2="1506.4" y2="1946.5" stroke-width="2.2"/>
<line x1="1490.6" y1="1574.8" x2="1490.6" y2="1946.5" stroke-width="2" stroke-dasharray="31.5 2.4 2.4 2.4"/>
<line x1="1504.2" y1="1574.8" x2="1504.2" y2="1946.5" stroke-width="2" stroke-dasharray="31.5 2.4 2.4 2.4"/>
<rect x="453.4" y="1945.6" width="16" height="16" rx="1.5" fill="#000" style="stroke:none"/>
<rect x="457.7" y="1949.9" width="7.4" height="7.4" fill="none" style="stroke:#fff" stroke-width="0.9"/>
<path d="M457.7 1949.9L465.1 1957.3M465.1 1949.9L457.7 1957.3" style="stroke:#fff" stroke-width="0.9" fill="none"/>
<rect x="973.7" y="1945.3" width="16.2" height="16.2" rx="1.5" fill="#000" style="stroke:none"/>
<rect x="978" y="1949.6" width="7.6" height="7.6" fill="none" style="stroke:#fff" stroke-width="0.9"/>
<path d="M978 1949.6L985.6 1957.2M985.6 1949.6L978 1957.2" style="stroke:#fff" stroke-width="0.9" fill="none"/>
<rect x="1488.7" y="1945.3" width="16.4" height="16.4" rx="1.5" fill="#000" style="stroke:none"/>
<rect x="1493" y="1949.6" width="7.8" height="7.8" fill="none" style="stroke:#fff" stroke-width="0.9"/>
<path d="M1493 1949.6L1500.8 1957.4M1500.8 1949.6L1493 1957.4" style="stroke:#fff" stroke-width="0.9" fill="none"/>
<rect x="2010.2" y="1945.6" width="16.4" height="16.4" rx="1.5" fill="#000" style="stroke:none"/>
<rect x="2014.5" y="1949.9" width="7.8" height="7.8" fill="none" style="stroke:#fff" stroke-width="0.9"/>
<path d="M2014.5 1949.9L2022.3 1957.7M2022.3 1949.9L2014.5 1957.7" style="stroke:#fff" stroke-width="0.9" fill="none"/>
<text x="701" y="1717.6" font-size="36.2" class="b">A 1.4.</text>
<rect x="699.5" y="1729.1" width="59" height="20.6" stroke-width="1.3" fill="none"/>
<text x="701.2" y="1745.8" font-size="18.5">-0.020</text>
<text x="1216.7" y="1717.6" font-size="36.2" class="b">B 1.4.</text>
<rect x="1217.2" y="1729.1" width="59" height="20.6" stroke-width="1.3" fill="none"/>
<text x="1218.9" y="1745.8" font-size="18.5">-0.020</text>
<text x="1737" y="1717.6" font-size="36.2" class="b">C 1.4.</text>
<rect x="1736.3" y="1729.1" width="59" height="20.6" stroke-width="1.3" fill="none"/>
<text x="1738" y="1745.8" font-size="18.5">-0.020</text>
<line x1="444.8" y1="1604.9" x2="2033.9" y2="1604.9" stroke-width="1.35"/>
<line x1="578.8" y1="1613.2" x2="595.4" y2="1596.6" stroke-width="1.6"/>
<line x1="587.1" y1="1580" x2="587.1" y2="1612" stroke-width="1.35"/>
<line x1="847.7" y1="1613.2" x2="864.3" y2="1596.6" stroke-width="1.6"/>
<line x1="856" y1="1580" x2="856" y2="1612" stroke-width="1.35"/>
<line x1="1096.6" y1="1613.2" x2="1113.2" y2="1596.6" stroke-width="1.6"/>
<line x1="1104.9" y1="1580" x2="1104.9" y2="1612" stroke-width="1.35"/>
<line x1="1365.6" y1="1613.2" x2="1382.2" y2="1596.6" stroke-width="1.6"/>
<line x1="1373.9" y1="1580" x2="1373.9" y2="1612" stroke-width="1.35"/>
<line x1="1614.5" y1="1613.2" x2="1631.1" y2="1596.6" stroke-width="1.6"/>
<line x1="1622.8" y1="1580" x2="1622.8" y2="1612" stroke-width="1.35"/>
<line x1="1883.4" y1="1613.2" x2="1900" y2="1596.6" stroke-width="1.6"/>
<line x1="1891.7" y1="1580" x2="1891.7" y2="1612" stroke-width="1.35"/>
<line x1="444.8" y1="1605.9" x2="454.8" y2="1595.9" stroke-width="1.6"/>
<line x1="2023.9" y1="1605.9" x2="2033.9" y2="1595.9" stroke-width="1.6"/>
<text x="518.9" y="1601.2" font-size="22.5" text-anchor="middle">1050</text>
<text x="721.3" y="1601.2" font-size="22.5" text-anchor="middle">2080</text>
<text x="1032.5" y="1601.2" font-size="22.5" text-anchor="middle">1925</text>
<text x="1238.9" y="1601.2" font-size="22.5" text-anchor="middle">2080</text>
<text x="1552" y="1601.2" font-size="22.5" text-anchor="middle">1925</text>
<text x="1757" y="1601.2" font-size="22.5" text-anchor="middle">2080</text>
<text x="1939.4" y="1601.2" font-size="22.5" text-anchor="middle">1050</text>
<text x="721.3" y="1628.8" font-size="20" text-anchor="middle">2080</text>
<text x="1238.9" y="1628.8" font-size="20" text-anchor="middle">2080</text>
<text x="1757" y="1628.8" font-size="20" text-anchor="middle">2080</text>
<line x1="444.8" y1="1884.4" x2="2093.7" y2="1884.4" stroke-width="1.35"/>
<line x1="436.5" y1="1892.7" x2="453.1" y2="1876.1" stroke-width="1.6"/>
<line x1="459.2" y1="1892.7" x2="475.8" y2="1876.1" stroke-width="1.6"/>
<line x1="963.7" y1="1892.7" x2="980.3" y2="1876.1" stroke-width="1.6"/>
<line x1="983.1" y1="1892.7" x2="999.7" y2="1876.1" stroke-width="1.6"/>
<line x1="1479" y1="1892.7" x2="1495.6" y2="1876.1" stroke-width="1.6"/>
<line x1="1498.3" y1="1892.7" x2="1514.9" y2="1876.1" stroke-width="1.6"/>
<line x1="2002.9" y1="1892.7" x2="2019.5" y2="1876.1" stroke-width="1.6"/>
<line x1="2025.6" y1="1892.7" x2="2042.2" y2="1876.1" stroke-width="1.6"/>
<text x="504" y="1880.3" font-size="22.5" text-anchor="middle">175</text>
<text x="719.7" y="1880.3" font-size="22.5" text-anchor="middle">3902</text>
<text x="1027" y="1880.3" font-size="22.5" text-anchor="middle">150</text>
<text x="1238.9" y="1880.3" font-size="22.5" text-anchor="middle">3835</text>
<text x="1538.4" y="1880.3" font-size="22.5" text-anchor="middle">150</text>
<text x="1759.1" y="1880.3" font-size="22.5" text-anchor="middle">3902</text>
<text x="2071" y="1880.3" font-size="22.5" text-anchor="middle">175</text>
<line x1="461" y1="1928.7" x2="2017.8" y2="1928.7" stroke-width="1.35"/>
<line x1="455" y1="1934.7" x2="467" y2="1922.7" stroke-width="1.6"/>
<line x1="461" y1="1920.7" x2="461" y2="1946" stroke-width="1.35"/>
<line x1="975.7" y1="1934.7" x2="987.7" y2="1922.7" stroke-width="1.6"/>
<line x1="981.7" y1="1920.7" x2="981.7" y2="1946" stroke-width="1.35"/>
<line x1="1490.9" y1="1934.7" x2="1502.9" y2="1922.7" stroke-width="1.6"/>
<line x1="1496.9" y1="1920.7" x2="1496.9" y2="1946" stroke-width="1.35"/>
<line x1="2011.8" y1="1934.7" x2="2023.8" y2="1922.7" stroke-width="1.6"/>
<line x1="2017.8" y1="1920.7" x2="2017.8" y2="1946" stroke-width="1.35"/>
<text x="720.9" y="1924.9" font-size="22.5" text-anchor="middle">4028</text>
<text x="1238.9" y="1924.9" font-size="22.5" text-anchor="middle">3985</text>
<text x="1757.7" y="1924.9" font-size="22.5" text-anchor="middle">4027</text>
<line x1="557" y1="1574.8" x2="557" y2="1953" stroke-width="1.35"/>
<line x1="548.7" y1="1566.5" x2="565.3" y2="1583.1" stroke-width="1.6"/>
<line x1="548.7" y1="1944.7" x2="565.3" y2="1961.3" stroke-width="1.6"/>
<text x="553.4" y="1763.7" font-size="22.5" text-anchor="middle" transform="rotate(-90 553.4 1763.7)">2925</text>
<line x1="524.6" y1="1953" x2="565.4" y2="1953" stroke-width="1.35"/>
<line x1="922.7" y1="1574.8" x2="922.7" y2="2028" stroke-width="1.35"/>
<line x1="914.4" y1="1566.5" x2="931" y2="1583.1" stroke-width="1.6"/>
<line x1="914.4" y1="1938.2" x2="931" y2="1954.8" stroke-width="1.6"/>
<line x1="914.4" y1="1960.9" x2="931" y2="1977.5" stroke-width="1.6"/>
<text x="919.1" y="1760.5" font-size="22.5" text-anchor="middle" transform="rotate(-90 919.1 1760.5)">2875</text>
<text x="919.1" y="2006.5" font-size="22.5" text-anchor="middle" transform="rotate(-90 919.1 2006.5)">175</text>
<line x1="1449" y1="1574.8" x2="1449" y2="2028" stroke-width="1.35"/>
<line x1="1440.7" y1="1566.5" x2="1457.3" y2="1583.1" stroke-width="1.6"/>
<line x1="1440.7" y1="1938.2" x2="1457.3" y2="1954.8" stroke-width="1.6"/>
<line x1="1440.7" y1="1960.9" x2="1457.3" y2="1977.5" stroke-width="1.6"/>
<text x="1445.4" y="1760.5" font-size="22.5" text-anchor="middle" transform="rotate(-90 1445.4 1760.5)">2875</text>
<text x="1445.4" y="2006.5" font-size="22.5" text-anchor="middle" transform="rotate(-90 1445.4 2006.5)">175</text>
<line x1="1968.5" y1="1574.8" x2="1968.5" y2="2028" stroke-width="1.35"/>
<line x1="1960.2" y1="1566.5" x2="1976.8" y2="1583.1" stroke-width="1.6"/>
<line x1="1960.2" y1="1938.2" x2="1976.8" y2="1954.8" stroke-width="1.6"/>
<line x1="1960.2" y1="1960.9" x2="1976.8" y2="1977.5" stroke-width="1.6"/>
<text x="1964.9" y="1760.5" font-size="22.5" text-anchor="middle" transform="rotate(-90 1964.9 1760.5)">2875</text>
<text x="1964.9" y="2006.5" font-size="22.5" text-anchor="middle" transform="rotate(-90 1964.9 2006.5)">175</text>
<line x1="444.8" y1="2032.8" x2="2033.9" y2="2032.8" stroke-width="1.35"/>
<line x1="436.5" y1="2041.1" x2="453.1" y2="2024.5" stroke-width="1.6"/>
<line x1="444.8" y1="2000" x2="444.8" y2="2041" stroke-width="1.35"/>
<line x1="2025.6" y1="2041.1" x2="2042.2" y2="2024.5" stroke-width="1.6"/>
<line x1="2033.9" y1="2000" x2="2033.9" y2="2041" stroke-width="1.35"/>
<text x="1238.9" y="2029.4" font-size="22.5" text-anchor="middle">12290</text>
<line x1="409.3" y1="579.2" x2="409.3" y2="1969.2" stroke-width="1.35"/>
<line x1="401" y1="570.9" x2="417.6" y2="587.5" stroke-width="1.6"/>
<line x1="401" y1="1566.5" x2="417.6" y2="1583.1" stroke-width="1.6"/>
<line x1="401" y1="1960.9" x2="417.6" y2="1977.5" stroke-width="1.6"/>
<line x1="401" y1="579.2" x2="441.5" y2="579.2" stroke-width="1.35"/>
<line x1="401" y1="1574.8" x2="444" y2="1574.8" stroke-width="1.35"/>
<line x1="401" y1="1969.2" x2="444" y2="1969.2" stroke-width="1.35"/>
<text x="405" y="1076.6" font-size="22.5" text-anchor="middle" transform="rotate(-90 405 1076.6)">7700</text>
<text x="405" y="1772" font-size="22.5" text-anchor="middle" transform="rotate(-90 405 1772)">3050</text>
<line x1="434.3" y1="1574.8" x2="434.3" y2="1959.5" stroke-width="1.35"/>
<line x1="426" y1="1566.5" x2="442.6" y2="1583.1" stroke-width="1.6"/>
<line x1="426" y1="1951.2" x2="442.6" y2="1967.8" stroke-width="1.6"/>
<line x1="426" y1="1959.5" x2="444" y2="1959.5" stroke-width="1.35"/>
<text x="430.4" y="1771.5" font-size="22.5" text-anchor="middle" transform="rotate(-90 430.4 1771.5)">2975</text>
<line x1="451.3" y1="395.8" x2="2027.5" y2="395.8" stroke-width="1.35"/>
<line x1="443" y1="404.1" x2="459.6" y2="387.5" stroke-width="1.6"/>
<line x1="451.3" y1="388" x2="451.3" y2="428" stroke-width="1.35"/>
<line x1="2019.2" y1="404.1" x2="2035.8" y2="387.5" stroke-width="1.6"/>
<line x1="2027.5" y1="388" x2="2027.5" y2="428" stroke-width="1.35"/>
<text x="1238.5" y="391.8" font-size="22.5" text-anchor="middle">12190</text>
<line x1="451.3" y1="448.1" x2="2027.5" y2="448.1" stroke-width="1.35"/>
<line x1="443" y1="456.4" x2="459.6" y2="439.8" stroke-width="1.6"/>
<line x1="451.3" y1="441" x2="451.3" y2="481" stroke-width="1.35"/>
<line x1="542.6" y1="456.4" x2="559.2" y2="439.8" stroke-width="1.6"/>
<line x1="550.9" y1="441" x2="550.9" y2="481" stroke-width="1.35"/>
<line x1="613.7" y1="456.4" x2="630.3" y2="439.8" stroke-width="1.6"/>
<line x1="622" y1="441" x2="622" y2="481" stroke-width="1.35"/>
<line x1="669.3" y1="456.4" x2="685.9" y2="439.8" stroke-width="1.6"/>
<line x1="677.6" y1="441" x2="677.6" y2="481" stroke-width="1.35"/>
<line x1="798.6" y1="456.4" x2="815.2" y2="439.8" stroke-width="1.6"/>
<line x1="806.9" y1="441" x2="806.9" y2="481" stroke-width="1.35"/>
<line x1="846.4" y1="456.4" x2="863" y2="439.8" stroke-width="1.6"/>
<line x1="854.7" y1="441" x2="854.7" y2="481" stroke-width="1.35"/>
<line x1="911.1" y1="456.4" x2="927.7" y2="439.8" stroke-width="1.6"/>
<line x1="919.4" y1="441" x2="919.4" y2="481" stroke-width="1.35"/>
<line x1="1060.4" y1="456.4" x2="1077" y2="439.8" stroke-width="1.6"/>
<line x1="1068.7" y1="441" x2="1068.7" y2="481" stroke-width="1.35"/>
<line x1="1131.5" y1="456.4" x2="1148.1" y2="439.8" stroke-width="1.6"/>
<line x1="1139.8" y1="441" x2="1139.8" y2="481" stroke-width="1.35"/>
<line x1="1187.1" y1="456.4" x2="1203.7" y2="439.8" stroke-width="1.6"/>
<line x1="1195.4" y1="441" x2="1195.4" y2="481" stroke-width="1.35"/>
<line x1="1316.4" y1="456.4" x2="1333" y2="439.8" stroke-width="1.6"/>
<line x1="1324.7" y1="441" x2="1324.7" y2="481" stroke-width="1.35"/>
<line x1="1364.3" y1="456.4" x2="1380.9" y2="439.8" stroke-width="1.6"/>
<line x1="1372.6" y1="441" x2="1372.6" y2="481" stroke-width="1.35"/>
<line x1="1428.9" y1="456.4" x2="1445.5" y2="439.8" stroke-width="1.6"/>
<line x1="1437.2" y1="441" x2="1437.2" y2="481" stroke-width="1.35"/>
<line x1="1578.3" y1="456.4" x2="1594.9" y2="439.8" stroke-width="1.6"/>
<line x1="1586.6" y1="441" x2="1586.6" y2="481" stroke-width="1.35"/>
<line x1="1649.4" y1="456.4" x2="1666" y2="439.8" stroke-width="1.6"/>
<line x1="1657.7" y1="441" x2="1657.7" y2="481" stroke-width="1.35"/>
<line x1="1705" y1="456.4" x2="1721.6" y2="439.8" stroke-width="1.6"/>
<line x1="1713.3" y1="441" x2="1713.3" y2="481" stroke-width="1.35"/>
<line x1="1834.3" y1="456.4" x2="1850.9" y2="439.8" stroke-width="1.6"/>
<line x1="1842.6" y1="441" x2="1842.6" y2="481" stroke-width="1.35"/>
<line x1="1882.1" y1="456.4" x2="1898.7" y2="439.8" stroke-width="1.6"/>
<line x1="1890.4" y1="441" x2="1890.4" y2="481" stroke-width="1.35"/>
<line x1="1946.8" y1="456.4" x2="1963.4" y2="439.8" stroke-width="1.6"/>
<line x1="1955.1" y1="441" x2="1955.1" y2="481" stroke-width="1.35"/>
<line x1="2019.2" y1="456.4" x2="2035.8" y2="439.8" stroke-width="1.6"/>
<line x1="2027.5" y1="441" x2="2027.5" y2="481" stroke-width="1.35"/>
<text x="500.8" y="444.7" font-size="22.5" text-anchor="middle">770</text>
<text x="586.2" y="444.7" font-size="22.5" text-anchor="middle">550</text>
<text x="649.6" y="444.7" font-size="22.5" text-anchor="middle">430</text>
<text x="742.2" y="444.7" font-size="22.5" text-anchor="middle">1000</text>
<text x="830.1" y="444.7" font-size="22.5" text-anchor="middle">370</text>
<text x="887" y="444.7" font-size="22.5" text-anchor="middle">500</text>
<text x="584.7" y="473.4" font-size="20" text-anchor="middle">560 (1550)</text>
<text x="741.5" y="473.4" font-size="20" text-anchor="middle">2060</text>
<text x="888.2" y="473.4" font-size="20" text-anchor="middle">2120 (1500)</text>
<text x="1104" y="444.7" font-size="22.5" text-anchor="middle">550</text>
<text x="1167.4" y="444.7" font-size="22.5" text-anchor="middle">430</text>
<text x="1260" y="444.7" font-size="22.5" text-anchor="middle">1000</text>
<text x="1347.9" y="444.7" font-size="22.5" text-anchor="middle">370</text>
<text x="1404.8" y="444.7" font-size="22.5" text-anchor="middle">500</text>
<text x="1102.5" y="473.4" font-size="20" text-anchor="middle">560 (1550)</text>
<text x="1259.3" y="473.4" font-size="20" text-anchor="middle">2060</text>
<text x="1406" y="473.4" font-size="20" text-anchor="middle">2120 (1500)</text>
<text x="1621.9" y="444.7" font-size="22.5" text-anchor="middle">550</text>
<text x="1685.3" y="444.7" font-size="22.5" text-anchor="middle">430</text>
<text x="1777.9" y="444.7" font-size="22.5" text-anchor="middle">1000</text>
<text x="1865.8" y="444.7" font-size="22.5" text-anchor="middle">370</text>
<text x="1922.7" y="444.7" font-size="22.5" text-anchor="middle">500</text>
<text x="1620.4" y="473.4" font-size="20" text-anchor="middle">560 (1550)</text>
<text x="1777.2" y="473.4" font-size="20" text-anchor="middle">2060</text>
<text x="1923.9" y="473.4" font-size="20" text-anchor="middle">2120 (1500)</text>
<text x="993.7" y="444.7" font-size="22.5" text-anchor="middle">1155</text>
<text x="1511.5" y="444.7" font-size="22.5" text-anchor="middle">1155</text>
<text x="993.7" y="473.4" font-size="20" text-anchor="middle">2060</text>
<text x="1991.3" y="444.7" font-size="22.5" text-anchor="middle">560</text>
<rect x="465.9" y="463.7" width="59" height="20.6" stroke-width="1.3" fill="none"/>
<text x="467.6" y="480.4" font-size="18.5">-0.800</text>
<rect x="1476.5" y="466.7" width="59" height="20.6" stroke-width="1.3" fill="none"/>
<text x="1478.2" y="483.4" font-size="18.5">-0.800</text>
<rect x="2086.9" y="438" width="59" height="20.6" stroke-width="1.3" fill="none"/>
<text x="2088.6" y="454.7" font-size="18.5">-0.800</text>
<rect x="320" y="746.7" width="59" height="20.6" stroke-width="1.3" fill="none"/>
<text x="321.7" y="763.4" font-size="18.5">-1.540</text>
<rect x="315.1" y="1093.5" width="59" height="20.6" stroke-width="1.3" fill="none"/>
<text x="316.8" y="1110.2" font-size="18.5">-1.610</text>
<rect x="320.5" y="1385.2" width="59" height="20.6" stroke-width="1.3" fill="none"/>
<text x="322.2" y="1401.9" font-size="18.5">-2.640</text>
<rect x="320.5" y="1628.7" width="59" height="20.6" stroke-width="1.3" fill="none"/>
<text x="322.2" y="1645.4" font-size="18.5">-2.160</text>
<rect x="326.8" y="2047" width="59" height="20.6" stroke-width="1.3" fill="none"/>
<text x="328.5" y="2063.7" font-size="18.5">-2.280</text>
<rect x="2086.9" y="1544.2" width="59" height="20.6" stroke-width="1.3" fill="none"/>
<text x="2088.6" y="1560.9" font-size="18.5">-1.710</text>
<rect x="2078" y="2047.2" width="59" height="20.6" stroke-width="1.3" fill="none"/>
<text x="2079.7" y="2063.9" font-size="18.5">-1.820</text>
<rect x="1298" y="2047" width="59" height="20.6" stroke-width="1.3" fill="none"/>
<text x="1299.7" y="2063.7" font-size="18.5">-2.010</text>
<rect x="1032.7" y="1815.9" width="113" height="24.3" stroke-width="1.3" fill="none"/>
<text x="1089.2" y="1833.7" font-size="18.1" text-anchor="middle">h - 2520 mm</text>
<circle cx="982" cy="1808.6" r="2.8" fill="none" stroke-width="1.2"/>
<line x1="984.6" y1="1809.6" x2="1032.7" y2="1827.4" stroke-width="1.2"/>
<rect x="1830.5" y="1624.4" width="113" height="24.3" stroke-width="1.3" fill="none"/>
<text x="1887" y="1642.2" font-size="18.1" text-anchor="middle">h - 2520 mm</text>
<circle cx="2018.3" cy="1661.7" r="2.8" fill="none" stroke-width="1.2"/>
<path d="M1943.5 1636L1954.5 1636L2015.7 1660.6" stroke-width="1.2" fill="none"/>
<rect x="1585.4" y="1897.8" width="113.3" height="24.6" stroke-width="1.3" fill="none"/>
<text x="1642.1" y="1915.6" font-size="18.1" text-anchor="middle">h - 2520 mm</text>
<circle cx="1547.5" cy="1952.6" r="2.8" fill="none" stroke-width="1.2"/>
<path d="M1585.4 1909.7L1570.1 1909.7L1548.9 1950.2" stroke-width="1.2" fill="none"/>
<line x1="742.6" y1="313.5" x2="742.6" y2="415" stroke-width="4.4" stroke-linecap="round"/>
<polygon points="683.1,364.8 711.8,364.8 711.8,356 736,370 711.8,384 711.8,375.2 683.1,375.2" fill="#000" stroke="none"/>
<text x="687.5" y="340.3" font-size="44" text-anchor="middle">A</text>
<line x1="742.6" y1="2044" x2="742.6" y2="2147" stroke-width="4.4" stroke-linecap="round"/>
<polygon points="683.1,2084.8 711.8,2084.8 711.8,2076 736,2090 711.8,2104 711.8,2095.2 683.1,2095.2" fill="#000" stroke="none"/>
<text x="687.5" y="2151" font-size="44" text-anchor="middle">A</text>
<text x="471" y="170.9" font-size="45.2">Půdorys 1.NP 1:50</text>
<text x="471" y="224.5" font-size="45.2">(bytové jednotky A,B,C)</text>
<text x="2408.6" y="583" font-size="27.1">LEGENDA MÍSTNOSTÍ:</text>
<rect x="2312.5" y="608.2" width="1051.9" height="305.5" stroke-width="1.4" fill="none" style="stroke:#1a1a1a"/>
<line x1="2312.5" y1="658.9" x2="3364.4" y2="658.9" stroke-width="1.4" style="stroke:#1a1a1a"/>
<text x="2801" y="643.7" font-size="27" text-anchor="middle" class="b">Půdorys 1. NP. 1:50</text>
<line x1="2312.5" y1="690.8" x2="3364.4" y2="690.8" stroke-width="1.4" style="stroke:#1a1a1a"/>
<line x1="2312.5" y1="722.6" x2="3364.4" y2="722.6" stroke-width="1.4" style="stroke:#1a1a1a"/>
<line x1="2312.5" y1="754.5" x2="3364.4" y2="754.5" stroke-width="1.4" style="stroke:#1a1a1a"/>
<line x1="2312.5" y1="786.3" x2="3364.4" y2="786.3" stroke-width="1.4" style="stroke:#1a1a1a"/>
<line x1="2312.5" y1="818.1" x2="3364.4" y2="818.1" stroke-width="1.4" style="stroke:#1a1a1a"/>
<line x1="2312.5" y1="850" x2="3364.4" y2="850" stroke-width="1.4" style="stroke:#1a1a1a"/>
<line x1="2312.5" y1="881.9" x2="3364.4" y2="881.9" stroke-width="1.4" style="stroke:#1a1a1a"/>
<line x1="2401.8" y1="690.8" x2="2401.8" y2="818.1" stroke-width="1.4" style="stroke:#1a1a1a"/>
<line x1="2401.8" y1="881.9" x2="2401.8" y2="913.7" stroke-width="1.4" style="stroke:#1a1a1a"/>
<line x1="2696.4" y1="690.8" x2="2696.4" y2="818.1" stroke-width="1.4" style="stroke:#1a1a1a"/>
<line x1="2696.4" y1="881.9" x2="2696.4" y2="913.7" stroke-width="1.4" style="stroke:#1a1a1a"/>
<line x1="2824.7" y1="690.8" x2="2824.7" y2="818.1" stroke-width="1.4" style="stroke:#1a1a1a"/>
<line x1="2824.7" y1="881.9" x2="2824.7" y2="913.7" stroke-width="1.4" style="stroke:#1a1a1a"/>
<line x1="3006.9" y1="690.8" x2="3006.9" y2="818.1" stroke-width="1.4" style="stroke:#1a1a1a"/>
<line x1="3006.9" y1="881.9" x2="3006.9" y2="913.7" stroke-width="1.4" style="stroke:#1a1a1a"/>
<line x1="2696.4" y1="818.1" x2="2696.4" y2="850" stroke-width="1.4" style="stroke:#1a1a1a"/>
<line x1="2824.7" y1="818.1" x2="2824.7" y2="850" stroke-width="1.4" style="stroke:#1a1a1a"/>
<text x="2324" y="682.9" font-size="19.9" class="b">Samostatná rekreační jednotka A (1. NP.)</text>
<text x="2320.5" y="718.5" font-size="19.9" class="i">Č. Míst.</text>
<text x="2412.5" y="714" font-size="19.9" class="i">Název místnosti</text>
<text x="2704.5" y="714" font-size="19.9" class="i">Plocha (m²)</text>
<text x="2833" y="714" font-size="19.9" class="i">Podlahovina</text>
<text x="3020.5" y="714" font-size="19.9" class="i">Stěny /Strop</text>
<text x="2321" y="746.7" font-size="19.9" class="b">A 1.1</text>
<text x="2409.7" y="746.7" font-size="19.9">Koupelna / WC</text>
<text x="2704.5" y="746.7" font-size="19.9">2,68 m²</text>
<text x="2832.6" y="746.7" font-size="19.9">Dlažba</text>
<text x="3020" y="746.7" font-size="19.9">Obklady / SDK</text>
<text x="2321" y="778.6" font-size="19.9" class="b">A 1.2</text>
<text x="2409.7" y="778.6" font-size="19.9">Zádveří / Schodiště</text>
<text x="2704.5" y="778.6" font-size="19.9">6,18 m²</text>
<text x="2832.6" y="778.6" font-size="19.9">Lamino</text>
<text x="3020" y="778.6" font-size="19.9">SDK / SDK + stropní trámy</text>
<text x="2321" y="810.4" font-size="19.9" class="b">A 1.3</text>
<text x="2409.7" y="810.4" font-size="19.9">Kuchyň / Obývací pokoj</text>
<text x="2704.5" y="810.4" font-size="19.9">14,94 m²</text>
<text x="2832.6" y="810.4" font-size="19.9">Lamino</text>
<text x="3020" y="810.4" font-size="19.9">Vápenná omítka / Vápenná omítka</text>
<text x="2320.5" y="842.2" font-size="19.9">Obytná plocha celkem</text>
<text x="2704.5" y="842.2" font-size="19.9">23,80 m²</text>
<text x="2321" y="906" font-size="19.9" class="b">A 1.4</text>
<text x="2410.5" y="906" font-size="19.9">Terasa</text>
<text x="2704.5" y="906" font-size="19.9">11,21 m²</text>
<text x="2832.6" y="906" font-size="19.9">Dřevo</text>
<text x="3020" y="906" font-size="19.9">Zábradlí - dřevo</text>
<line x1="2401.8" y1="913.8" x2="2401.8" y2="945.7" stroke-width="1.4" style="stroke:#1a1a1a"/>
<rect x="2312.5" y="945.7" width="1051.9" height="254" stroke-width="1.4" fill="none" style="stroke:#1a1a1a"/>
<line x1="2312.5" y1="977.5" x2="3364.4" y2="977.5" stroke-width="1.4" style="stroke:#1a1a1a"/>
<line x1="2312.5" y1="1009.2" x2="3364.4" y2="1009.2" stroke-width="1.4" style="stroke:#1a1a1a"/>
<line x1="2312.5" y1="1041" x2="3364.4" y2="1041" stroke-width="1.4" style="stroke:#1a1a1a"/>
<line x1="2312.5" y1="1072.7" x2="3364.4" y2="1072.7" stroke-width="1.4" style="stroke:#1a1a1a"/>
<line x1="2312.5" y1="1104.5" x2="3364.4" y2="1104.5" stroke-width="1.4" style="stroke:#1a1a1a"/>
<line x1="2312.5" y1="1136.2" x2="3364.4" y2="1136.2" stroke-width="1.4" style="stroke:#1a1a1a"/>
<line x1="2312.5" y1="1168" x2="3364.4" y2="1168" stroke-width="1.4" style="stroke:#1a1a1a"/>
<line x1="2401.8" y1="977.5" x2="2401.8" y2="1104.5" stroke-width="1.4" style="stroke:#1a1a1a"/>
<line x1="2401.8" y1="1168" x2="2401.8" y2="1199.7" stroke-width="1.4" style="stroke:#1a1a1a"/>
<line x1="2696.4" y1="977.5" x2="2696.4" y2="1104.5" stroke-width="1.4" style="stroke:#1a1a1a"/>
<line x1="2696.4" y1="1168" x2="2696.4" y2="1199.7" stroke-width="1.4" style="stroke:#1a1a1a"/>
<line x1="2824.7" y1="977.5" x2="2824.7" y2="1104.5" stroke-width="1.4" style="stroke:#1a1a1a"/>
<line x1="2824.7" y1="1168" x2="2824.7" y2="1199.7" stroke-width="1.4" style="stroke:#1a1a1a"/>
<line x1="3006.9" y1="977.5" x2="3006.9" y2="1104.5" stroke-width="1.4" style="stroke:#1a1a1a"/>
<line x1="3006.9" y1="1168" x2="3006.9" y2="1199.7" stroke-width="1.4" style="stroke:#1a1a1a"/>
<line x1="2696.4" y1="1104.5" x2="2696.4" y2="1136.2" stroke-width="1.4" style="stroke:#1a1a1a"/>
<line x1="2824.7" y1="1104.5" x2="2824.7" y2="1136.2" stroke-width="1.4" style="stroke:#1a1a1a"/>
<text x="2324" y="969.7" font-size="19.9" class="b">Samostatná rekreační jednotka B (1. NP.)</text>
<text x="2320.5" y="1005.2" font-size="19.9" class="i">Č. Míst.</text>
<text x="2412.5" y="1000.7" font-size="19.9" class="i">Název místnosti</text>
<text x="2704.5" y="1000.7" font-size="19.9" class="i">Plocha (m²)</text>
<text x="2833" y="1000.7" font-size="19.9" class="i">Podlahovina</text>
<text x="3020.5" y="1000.7" font-size="19.9" class="i">Stěny /Strop</text>
<text x="2321" y="1033.3" font-size="19.9" class="b">B 1.1</text>
<text x="2409.7" y="1033.3" font-size="19.9">Koupelna / WC</text>
<text x="2704.5" y="1033.3" font-size="19.9">2,73 m²</text>
<text x="2832.6" y="1033.3" font-size="19.9">Dlažba</text>
<text x="3020" y="1033.3" font-size="19.9">Obklady / SDK</text>
<text x="2321" y="1065" font-size="19.9" class="b">B 1.2</text>
<text x="2409.7" y="1065" font-size="19.9">Zádveří / Schodiště</text>
<text x="2704.5" y="1065" font-size="19.9">6,12 m²</text>
<text x="2832.6" y="1065" font-size="19.9">Lamino</text>
<text x="3020" y="1065" font-size="19.9">SDK / SDK + stropní trámy</text>
<text x="2321" y="1096.8" font-size="19.9" class="b">B 1.3</text>
<text x="2409.7" y="1096.8" font-size="19.9">Kuchyň / Obývací pokoj</text>
<text x="2704.5" y="1096.8" font-size="19.9">14,95 m²</text>
<text x="2832.6" y="1096.8" font-size="19.9">Lamino</text>
<text x="3020" y="1096.8" font-size="19.9">Vápenná omítka / Vápenná omítka</text>
<text x="2320.5" y="1128.5" font-size="19.9">Obytná plocha celkem</text>
<text x="2704.5" y="1128.5" font-size="19.9">23,80 m²</text>
<text x="2321" y="1192" font-size="19.9" class="b">B 1.4</text>
<text x="2410.5" y="1192" font-size="19.9">Terasa</text>
<text x="2704.5" y="1192" font-size="19.9">11,02 m²</text>
<text x="2832.6" y="1192" font-size="19.9">Dřevo</text>
<text x="3020" y="1192" font-size="19.9">Zábradlí - dřevo</text>
<rect x="2312.5" y="1231.6" width="1051.9" height="254.4" stroke-width="1.4" fill="none" style="stroke:#1a1a1a"/>
<line x1="2312.5" y1="1263.4" x2="3364.4" y2="1263.4" stroke-width="1.4" style="stroke:#1a1a1a"/>
<line x1="2312.5" y1="1295.2" x2="3364.4" y2="1295.2" stroke-width="1.4" style="stroke:#1a1a1a"/>
<line x1="2312.5" y1="1327" x2="3364.4" y2="1327" stroke-width="1.4" style="stroke:#1a1a1a"/>
<line x1="2312.5" y1="1358.8" x2="3364.4" y2="1358.8" stroke-width="1.4" style="stroke:#1a1a1a"/>
<line x1="2312.5" y1="1390.6" x2="3364.4" y2="1390.6" stroke-width="1.4" style="stroke:#1a1a1a"/>
<line x1="2312.5" y1="1422.4" x2="3364.4" y2="1422.4" stroke-width="1.4" style="stroke:#1a1a1a"/>
<line x1="2312.5" y1="1454.2" x2="3364.4" y2="1454.2" stroke-width="1.4" style="stroke:#1a1a1a"/>
<line x1="2401.8" y1="1263.4" x2="2401.8" y2="1390.6" stroke-width="1.4" style="stroke:#1a1a1a"/>
<line x1="2401.8" y1="1454.2" x2="2401.8" y2="1486" stroke-width="1.4" style="stroke:#1a1a1a"/>
<line x1="2696.4" y1="1263.4" x2="2696.4" y2="1390.6" stroke-width="1.4" style="stroke:#1a1a1a"/>
<line x1="2696.4" y1="1454.2" x2="2696.4" y2="1486" stroke-width="1.4" style="stroke:#1a1a1a"/>
<line x1="2824.7" y1="1263.4" x2="2824.7" y2="1390.6" stroke-width="1.4" style="stroke:#1a1a1a"/>
<line x1="2824.7" y1="1454.2" x2="2824.7" y2="1486" stroke-width="1.4" style="stroke:#1a1a1a"/>
<line x1="3006.9" y1="1263.4" x2="3006.9" y2="1390.6" stroke-width="1.4" style="stroke:#1a1a1a"/>
<line x1="3006.9" y1="1454.2" x2="3006.9" y2="1486" stroke-width="1.4" style="stroke:#1a1a1a"/>
<line x1="2696.4" y1="1390.6" x2="2696.4" y2="1422.4" stroke-width="1.4" style="stroke:#1a1a1a"/>
<line x1="2824.7" y1="1390.6" x2="2824.7" y2="1422.4" stroke-width="1.4" style="stroke:#1a1a1a"/>
<text x="2324" y="1255.6" font-size="19.9" class="b">Samostatná rekreační jednotka C (1. NP.)</text>
<text x="2320.5" y="1291.2" font-size="19.9" class="i">Č. Míst.</text>
<text x="2412.5" y="1286.6" font-size="19.9" class="i">Název místnosti</text>
<text x="2704.5" y="1286.6" font-size="19.9" class="i">Plocha (m²)</text>
<text x="2833" y="1286.6" font-size="19.9" class="i">Podlahovina</text>
<text x="3020.5" y="1286.6" font-size="19.9" class="i">Stěny /Strop</text>
<text x="2321" y="1319.3" font-size="19.9" class="b">C 1.1</text>
<text x="2409.7" y="1319.3" font-size="19.9">Koupelna / WC</text>
<text x="2704.5" y="1319.3" font-size="19.9">2,68 m²</text>
<text x="2832.6" y="1319.3" font-size="19.9">Dlažba</text>
<text x="3020" y="1319.3" font-size="19.9">Obklady / SDK</text>
<text x="2321" y="1351.1" font-size="19.9" class="b">C 1.2</text>
<text x="2409.7" y="1351.1" font-size="19.9">Zádveří / Schodiště</text>
<text x="2704.5" y="1351.1" font-size="19.9">6,18 m²</text>
<text x="2832.6" y="1351.1" font-size="19.9">Lamino</text>
<text x="3020" y="1351.1" font-size="19.9">SDK / SDK + stropní trámy</text>
<text x="2321" y="1382.9" font-size="19.9" class="b">C 1.3</text>
<text x="2409.7" y="1382.9" font-size="19.9">Kuchyň / Obývací pokoj</text>
<text x="2704.5" y="1382.9" font-size="19.9">14,94 m²</text>
<text x="2832.6" y="1382.9" font-size="19.9">Lamino</text>
<text x="3020" y="1382.9" font-size="19.9">Vápenná omítka / Vápenná omítka</text>
<text x="2320.5" y="1414.7" font-size="19.9">Obytná plocha celkem</text>
<text x="2704.5" y="1414.7" font-size="19.9">23,80 m²</text>
<text x="2321" y="1478.3" font-size="19.9" class="b">C 1.4</text>
<text x="2410.5" y="1478.3" font-size="19.9">Terasa</text>
<text x="2704.5" y="1478.3" font-size="19.9">11,21 m²</text>
<text x="2832.6" y="1478.3" font-size="19.9">Dřevo</text>
<text x="3020" y="1478.3" font-size="19.9">Zábradlí - dřevo</text>
<text x="2317.9" y="1576.8" font-size="24" class="cad" textLength="76.7" lengthAdjust="spacingAndGlyphs">LEGENDA</text>
<text x="2406" y="1576.8" font-size="24" class="cad" textLength="94.8" lengthAdjust="spacingAndGlyphs">MATERIÁLŮ</text>
<text x="2513" y="1576.8" font-size="24" class="cad" textLength="108" lengthAdjust="spacingAndGlyphs">STÁVAJÍCÍCH</text>
<text x="2633.2" y="1576.8" font-size="24" class="cad" textLength="107.3" lengthAdjust="spacingAndGlyphs">KONSTRUKCÍ</text>
<text x="2482.7" y="1626.3" font-size="20.5" class="cad" textLength="80.8" lengthAdjust="spacingAndGlyphs">OBVODOVÉ</text>
<text x="2575" y="1626.3" font-size="20.5" class="cad" textLength="42.5" lengthAdjust="spacingAndGlyphs">ZDIVO</text>
<text x="2629.7" y="1626.3" font-size="20.5" class="cad" textLength="104.5" lengthAdjust="spacingAndGlyphs">–Dřevostavba</text>
<text x="2744.7" y="1626.3" font-size="20.5" class="cad" textLength="73.9" lengthAdjust="spacingAndGlyphs">sloupkové</text>
<text x="2829" y="1626.3" font-size="20.5" class="cad" textLength="83.6" lengthAdjust="spacingAndGlyphs">konstrukce</text>
<text x="2482.7" y="1650.7" font-size="20.5" class="cad" textLength="32.1" lengthAdjust="spacingAndGlyphs">(vně</text>
<text x="2525.2" y="1650.7" font-size="20.5" class="cad" textLength="64.5" lengthAdjust="spacingAndGlyphs">pláštěno</text>
<text x="2600.1" y="1650.7" font-size="20.5" class="cad" textLength="41.1" lengthAdjust="spacingAndGlyphs">prkny</text>
<text x="2650.6" y="1650.7" font-size="20.5" class="cad" textLength="26.1" lengthAdjust="spacingAndGlyphs">SM,</text>
<text x="2686.5" y="1650.7" font-size="20.5" class="cad" textLength="42.5" lengthAdjust="spacingAndGlyphs">uvnitř</text>
<text x="2739.5" y="1650.7" font-size="20.5" class="cad" textLength="29.6" lengthAdjust="spacingAndGlyphs">SDK</text>
<text x="2779.5" y="1650.7" font-size="20.5" class="cad" textLength="82.9" lengthAdjust="spacingAndGlyphs">předstěna)</text>
<text x="2874.3" y="1650.7" font-size="20.5" class="cad" textLength="12.2" lengthAdjust="spacingAndGlyphs">tl.</text>
<text x="2898" y="1650.7" font-size="20.5" class="cad" textLength="22" lengthAdjust="spacingAndGlyphs">dle</text>
<text x="2930.4" y="1650.7" font-size="20.5" class="cad" textLength="54.7" lengthAdjust="spacingAndGlyphs">výkresu</text>
<text x="2482.7" y="1724.9" font-size="20.5" class="cad" textLength="73.9" lengthAdjust="spacingAndGlyphs">PŘÍČKOVÉ</text>
<text x="2568" y="1724.9" font-size="20.5" class="cad" textLength="43.2" lengthAdjust="spacingAndGlyphs">ZDIVO</text>
<text x="2623.4" y="1724.9" font-size="20.5" class="cad" textLength="103.8" lengthAdjust="spacingAndGlyphs">–Sádrokarton</text>
<text x="2743" y="1724.9" font-size="20.5" text-anchor="middle" class="cad">/</text>
<text x="2758.6" y="1724.9" font-size="20.5" class="cad" textLength="59.2" lengthAdjust="spacingAndGlyphs">Vláknitá</text>
<text x="2829" y="1724.9" font-size="20.5" class="cad" textLength="51.6" lengthAdjust="spacingAndGlyphs">izolace</text>
<text x="2483.4" y="1746.5" font-size="20.5" class="cad" textLength="12.2" lengthAdjust="spacingAndGlyphs">tl.</text>
<text x="2507.8" y="1746.5" font-size="20.5" class="cad" textLength="21.6" lengthAdjust="spacingAndGlyphs">dle</text>
<text x="2539.8" y="1746.5" font-size="20.5" class="cad" textLength="55.1" lengthAdjust="spacingAndGlyphs">výkresu</text>
<text x="2482.7" y="1790" font-size="20.5" class="cad" textLength="27.9" lengthAdjust="spacingAndGlyphs">KCE</text>
<text x="2522.8" y="1790" font-size="20.5" class="cad" textLength="47" lengthAdjust="spacingAndGlyphs">terasy</text>
<text x="2580.2" y="1790" font-size="20.5" class="cad" textLength="70.4" lengthAdjust="spacingAndGlyphs">–Rámová</text>
<text x="2662.1" y="1790" font-size="20.5" class="cad" textLength="75.6" lengthAdjust="spacingAndGlyphs">kontrukce</text>
<text x="2752.7" y="1790" font-size="20.5" text-anchor="middle" class="cad">/</text>
<text x="2767.4" y="1790" font-size="20.5" class="cad" textLength="44.3" lengthAdjust="spacingAndGlyphs">pobití</text>
<text x="2823.1" y="1790" font-size="20.5" class="cad" textLength="88.2" lengthAdjust="spacingAndGlyphs">(prkna/latě</text>
<text x="2922.4" y="1790" font-size="20.5" class="cad" textLength="27.2" lengthAdjust="spacingAndGlyphs">SM)</text>
<text x="2483.4" y="1811.6" font-size="20.5" class="cad" textLength="12.2" lengthAdjust="spacingAndGlyphs">tl.</text>
<text x="2507.8" y="1811.6" font-size="20.5" class="cad" textLength="21.6" lengthAdjust="spacingAndGlyphs">dle</text>
<text x="2539.8" y="1811.6" font-size="20.5" class="cad" textLength="55.1" lengthAdjust="spacingAndGlyphs">výkresu</text>
<rect x="2320.8" y="1601.3" width="112.5" height="36" stroke-width="4.6" fill="none"/>
<line x1="2418.9" y1="1619.3" x2="2470.1" y2="1619.3" stroke-width="1.3"/>
<rect x="2320.8" y="1705.8" width="112.5" height="21.4" stroke-width="4.6" fill="none"/>
<line x1="2418.9" y1="1716.2" x2="2470.1" y2="1716.2" stroke-width="1.3"/>
<line x1="2358.6" y1="1776.1" x2="2420.7" y2="1776.1" stroke-width="1.6"/>
<line x1="2358.6" y1="1787.6" x2="2420.7" y2="1787.6" stroke-width="1.6"/>
<line x1="2358.6" y1="1791.8" x2="2435" y2="1791.8" stroke-width="1.6"/>
<rect x="2419.8" y="1774.6" width="16" height="16" rx="1.5" fill="#000" style="stroke:none"/>
<rect x="2424.1" y="1778.9" width="7.4" height="7.4" fill="none" style="stroke:#fff" stroke-width="0.9"/>
<path d="M2424.1 1778.9L2431.5 1786.3M2431.5 1778.9L2424.1 1786.3" style="stroke:#fff" stroke-width="0.9" fill="none"/>
<line x1="2435" y1="1782" x2="2470.1" y2="1782" stroke-width="1.3"/>
<rect x="2306.7" y="1873.7" width="487.5" height="102" stroke-width="1.4" fill="none" style="stroke:#333"/>
<text x="2323.8" y="1901.5" font-size="19.85" class="b">Poznámka:</text>
<text x="2323.8" y="1926" font-size="19.85" class="b">Konstrukce terasy / skladových prostor pod ní.</text>
<text x="2323.8" y="1950.3" font-size="19.85" class="b">Není pevně spojena se zemí (bez základů)</text>
<circle cx="2274.7" cy="2048.2" r="52.3" fill="none" stroke-width="2.2"/>
<g transform="rotate(-3.3 2274.7 2048.2)"><polygon points="2274.7,1996.3 2292.5,2019.5 2282.3,2019.5 2282.3,2049.5 2267.1,2049.5 2267.1,2019.5 2256.9,2019.5" fill="#000" stroke="none"/><line x1="2274.7" y1="2049" x2="2274.7" y2="2100.3" stroke-width="2"/></g>
<rect x="2788.3" y="2261.2" width="970.7" height="408" stroke-width="2.1" fill="none" style="stroke:#111"/>
<line x1="2788.3" y1="2306.6" x2="3273.4" y2="2306.6" stroke-width="2.1" style="stroke:#111"/>
<line x1="2788.3" y1="2351.9" x2="3273.4" y2="2351.9" stroke-width="2.1" style="stroke:#111"/>
<line x1="2788.3" y1="2397.2" x2="3273.4" y2="2397.2" stroke-width="2.1" style="stroke:#111"/>
<line x1="2788.3" y1="2442.5" x2="3273.4" y2="2442.5" stroke-width="2.1" style="stroke:#111"/>
<line x1="2788.3" y1="2487.9" x2="3759" y2="2487.9" stroke-width="2.1" style="stroke:#111"/>
<line x1="3273.4" y1="2261.2" x2="3273.4" y2="2487.9" stroke-width="2.1" style="stroke:#111"/>
<line x1="3407.7" y1="2487.9" x2="3407.7" y2="2669.2" stroke-width="2.1" style="stroke:#111"/>
<line x1="3407.7" y1="2533.2" x2="3759" y2="2533.2" stroke-width="2.1" style="stroke:#111"/>
<line x1="2788.3" y1="2578" x2="3759" y2="2578" stroke-width="2.1" style="stroke:#111"/>
<line x1="2788.3" y1="2623.9" x2="3759" y2="2623.9" stroke-width="2.1" style="stroke:#111"/>
<text x="2799.5" y="2296" font-size="22.7" xml:space="preserve">Odpovědný projektant:</text>
<text x="2799.5" y="2341.4" font-size="22.7" xml:space="preserve">Vypracoval: Bc. Matěj Koška, DiS.</text>
<text x="2799.5" y="2386.7" font-size="22.7" xml:space="preserve">Kreslil: Bc. Matěj Koška, DiS.</text>
<text x="2799.5" y="2432" font-size="22.7" xml:space="preserve">Stupeň PD: Zjednodušená projektová dok.</text>
<text x="2799.5" y="2476.8" font-size="22.7" xml:space="preserve">Objednavatel:Connecte DEVELOPMENT s.r.o.</text>
<text x="2799.5" y="2521.3" font-size="22.7" xml:space="preserve">Místo stavby : Dědovice č.p. 88, psč. 397 01 Ostrovec -</text>
<text x="2799.5" y="2548.2" font-size="22.7" xml:space="preserve">Písek 1,  k.ú. Dědovice, st. 88</text>
<text x="2799.5" y="2611.7" font-size="22.7" xml:space="preserve">Stavba: Stávající stav</text>
<text x="2799.5" y="2657.3" font-size="22.7" xml:space="preserve">Dokument: Půdorys 1. NP</text>
<text x="3418.5" y="2521.3" font-size="22.7" xml:space="preserve">Datum:  20.5. 2025</text>
<text x="3418.5" y="2566.3" font-size="22.7" xml:space="preserve">Formát:  A2</text>
<text x="3418.5" y="2611.7" font-size="22.7" xml:space="preserve">Měřítko:  1:50</text>
<text x="3418.5" y="2657.3" font-size="22.7" xml:space="preserve">č. výkresu: 2.</text>
<text x="3276.8" y="2281.6" font-size="22.7">Razítko:</text>
<text x="3370.4" y="2342.5" font-size="42.5" class="ser b" textLength="294" lengthAdjust="spacing">BAUMEISTER</text>
<text x="3373.1" y="2368.3" font-size="22.5">stavební firma</text>
<path d="M3521 2357.2 L3658.7 2356.4 Q3585 2364 3521 2369 Z" fill="#000" stroke="none"/>
<text x="3519" y="2395" font-size="20.3" text-anchor="middle">Bc. Matěj Koška. DiS., tel. 607 299 567</text>
<text x="3516.6" y="2419.9" font-size="20.3" text-anchor="middle">Zahrádka 17, 398 58 Kostelec nad Vltavou</text>
<text x="3516.2" y="2447.6" font-size="20.3" text-anchor="middle">IČ: 079 08 521, DIČ: CZ9504221628</text>
</svg>
</body></html>
